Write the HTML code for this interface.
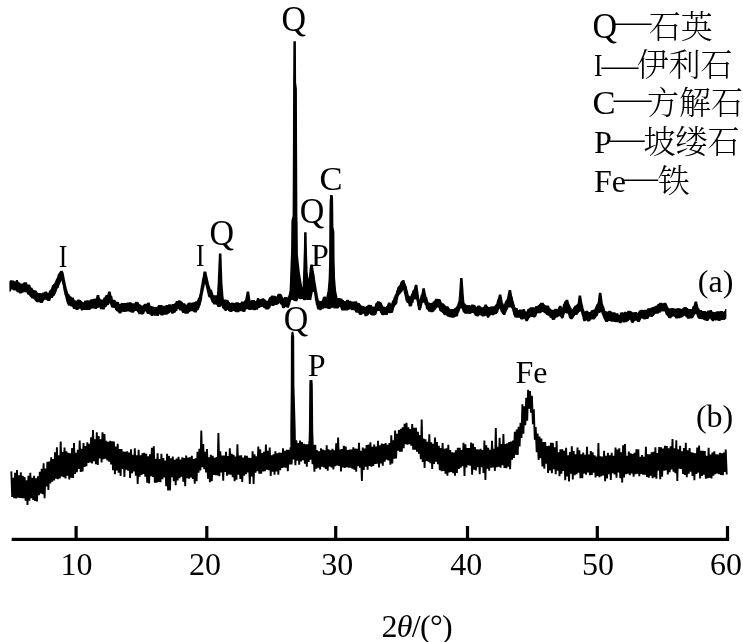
<!DOCTYPE html>
<html lang="zh">
<head>
<meta charset="utf-8">
<title>XRD</title>
<style>
html,body{margin:0;padding:0;background:#fff;}
body{width:743px;height:642px;overflow:hidden;}
svg{display:block;will-change:transform;}
text{font-family:"Liberation Serif", "Noto Serif CJK SC", serif;font-size:32px;fill:#000;}
.d{font-family:"Liberation Serif",serif;}
.q{font-size:34.5px;}
.i{font-style:italic;}
.cj{font-weight:300;}
</style>
</head>
<body>
<svg width="743" height="642" viewBox="0 0 743 642">
<rect width="743" height="642" fill="#fff"/>
<path d="M9.4 281.3 L9.7 281.2 L9.9 280.5 L10.2 280.2 L10.4 280.2 L10.7 280.2 L10.9 280.2 L11.2 280.2 L11.4 280.2 L11.7 280.2 L11.9 280.2 L12.2 280.2 L12.4 280.5 L12.7 280.5 L12.9 280.5 L13.2 280.5 L13.4 280.5 L13.7 280.5 L13.9 280.7 L14.2 280.7 L14.4 280.7 L14.7 281.4 L14.9 281.6 L15.2 281.6 L15.4 281.5 L15.7 281.1 L15.9 280.1 L16.1 280.1 L16.4 280.1 L16.6 280.1 L16.9 280.1 L17.1 280.1 L17.4 280.1 L17.6 280.1 L17.9 280.1 L18.1 281.0 L18.4 281.6 L18.6 281.7 L18.9 282.6 L19.1 282.6 L19.4 282.6 L19.6 282.6 L19.9 282.6 L20.1 282.8 L20.4 282.9 L20.6 283.4 L20.9 283.4 L21.1 283.4 L21.4 283.4 L21.6 283.4 L21.9 283.4 L22.1 283.4 L22.4 283.4 L22.6 283.4 L22.9 283.4 L23.1 283.0 L23.4 283.0 L23.6 282.3 L23.9 282.3 L24.1 282.2 L24.4 282.2 L24.6 282.2 L24.9 282.2 L25.1 282.2 L25.4 282.2 L25.6 282.2 L25.9 282.2 L26.1 282.2 L26.4 282.3 L26.6 282.3 L26.9 282.4 L27.1 282.6 L27.4 283.9 L27.6 284.5 L27.9 284.5 L28.1 284.6 L28.4 284.6 L28.6 284.6 L28.9 284.6 L29.1 284.6 L29.4 284.6 L29.6 284.6 L29.9 284.7 L30.1 285.2 L30.4 285.3 L30.6 286.1 L30.9 286.8 L31.1 287.0 L31.4 287.7 L31.6 287.8 L31.9 287.8 L32.1 287.8 L32.4 287.8 L32.6 287.9 L32.9 289.2 L33.1 289.6 L33.4 289.8 L33.6 289.8 L33.9 289.8 L34.1 289.8 L34.4 290.3 L34.6 290.3 L34.9 290.3 L35.1 290.3 L35.4 290.3 L35.6 290.4 L35.9 290.4 L36.1 290.4 L36.4 290.4 L36.6 290.8 L36.9 291.4 L37.1 292.0 L37.4 292.1 L37.6 292.4 L37.9 292.9 L38.1 292.9 L38.4 293.0 L38.6 293.0 L38.9 293.0 L39.1 293.0 L39.4 293.0 L39.6 293.0 L39.9 293.0 L40.1 293.0 L40.4 293.0 L40.6 293.1 L40.9 293.3 L41.1 293.5 L41.4 293.2 L41.6 293.2 L41.9 293.2 L42.1 292.8 L42.4 292.4 L42.6 292.4 L42.9 292.4 L43.1 292.4 L43.4 292.4 L43.6 292.4 L43.9 292.4 L44.1 292.1 L44.4 292.1 L44.6 291.8 L44.9 291.4 L45.1 291.4 L45.4 291.4 L45.6 291.4 L45.9 291.4 L46.1 291.4 L46.4 291.4 L46.6 291.4 L46.9 291.4 L47.1 291.8 L47.4 292.0 L47.6 292.9 L47.9 292.9 L48.1 292.9 L48.4 292.9 L48.6 292.0 L48.9 291.3 L49.1 291.3 L49.4 290.6 L49.6 290.3 L49.9 290.1 L50.1 290.1 L50.4 289.8 L50.6 289.2 L50.9 289.0 L51.1 288.5 L51.4 287.6 L51.6 286.9 L51.9 285.7 L52.1 285.6 L52.4 285.1 L52.6 285.1 L52.9 285.1 L53.1 284.6 L53.4 283.9 L53.6 283.9 L53.9 283.8 L54.1 283.4 L54.4 282.9 L54.6 282.5 L54.9 282.3 L55.1 281.8 L55.4 280.6 L55.6 280.5 L55.9 279.5 L56.1 278.8 L56.4 278.8 L56.6 278.5 L56.9 277.4 L57.1 277.3 L57.4 276.2 L57.6 274.7 L57.9 274.4 L58.1 273.8 L58.4 273.8 L58.6 273.8 L58.9 272.8 L59.1 272.8 L59.4 272.3 L59.6 271.8 L59.9 271.4 L60.1 271.3 L60.4 271.1 L60.6 270.8 L60.9 270.8 L61.1 270.8 L61.4 270.8 L61.6 270.8 L61.9 270.8 L62.1 270.8 L62.4 270.8 L62.6 270.8 L62.9 271.3 L63.1 271.7 L63.4 272.0 L63.6 273.3 L63.9 274.3 L64.2 275.8 L64.4 277.1 L64.7 278.5 L64.9 279.7 L65.2 281.0 L65.4 282.3 L65.7 283.6 L65.9 284.6 L66.2 286.2 L66.4 286.7 L66.7 287.7 L66.9 289.0 L67.2 289.8 L67.4 290.4 L67.7 291.6 L67.9 292.3 L68.2 293.5 L68.4 293.6 L68.7 293.9 L68.9 293.9 L69.2 293.9 L69.4 294.4 L69.7 295.0 L69.9 295.7 L70.2 295.7 L70.4 296.1 L70.7 296.2 L70.9 296.5 L71.2 296.5 L71.4 296.6 L71.7 297.0 L71.9 297.5 L72.2 297.5 L72.4 297.5 L72.7 297.5 L72.9 297.5 L73.2 297.5 L73.4 297.5 L73.7 297.5 L73.9 298.2 L74.2 299.1 L74.4 299.8 L74.7 299.8 L74.9 300.2 L75.2 300.2 L75.4 300.3 L75.7 300.4 L75.9 300.4 L76.2 300.4 L76.4 300.7 L76.7 300.7 L76.9 300.6 L77.2 300.0 L77.4 299.6 L77.7 299.6 L77.9 299.6 L78.2 299.6 L78.4 299.6 L78.7 299.6 L78.9 299.6 L79.2 299.6 L79.4 299.6 L79.7 299.8 L79.9 299.8 L80.2 300.1 L80.4 300.1 L80.7 300.1 L80.9 300.1 L81.2 300.7 L81.4 300.8 L81.7 301.2 L81.9 301.2 L82.2 301.4 L82.4 301.7 L82.7 302.0 L82.9 302.3 L83.2 302.2 L83.4 302.2 L83.7 302.2 L83.9 301.7 L84.2 301.0 L84.4 301.0 L84.7 300.6 L84.9 300.6 L85.2 300.6 L85.4 300.6 L85.7 300.4 L85.9 300.4 L86.2 300.4 L86.4 300.3 L86.7 300.3 L86.9 300.3 L87.2 300.3 L87.4 300.3 L87.7 300.3 L87.9 300.3 L88.2 300.3 L88.4 300.3 L88.7 300.4 L88.9 300.4 L89.2 300.4 L89.4 300.4 L89.7 300.1 L89.9 300.1 L90.2 299.9 L90.4 299.4 L90.7 299.3 L90.9 299.3 L91.2 299.3 L91.4 299.3 L91.7 299.3 L91.9 299.3 L92.2 299.3 L92.4 299.3 L92.7 299.0 L92.9 298.7 L93.2 298.7 L93.4 298.7 L93.7 298.7 L93.9 298.7 L94.2 298.7 L94.4 298.7 L94.7 298.7 L94.9 298.7 L95.2 298.5 L95.4 298.5 L95.7 298.5 L95.9 298.5 L96.2 297.3 L96.4 296.2 L96.7 295.0 L96.9 295.0 L97.2 295.0 L97.4 295.0 L97.7 295.0 L97.9 295.0 L98.2 295.0 L98.4 295.0 L98.7 295.0 L98.9 295.0 L99.2 295.0 L99.4 296.1 L99.7 297.3 L99.9 298.4 L100.2 298.4 L100.4 298.7 L100.7 299.0 L100.9 299.3 L101.2 299.5 L101.4 299.5 L101.7 299.5 L101.9 299.5 L102.2 299.5 L102.4 299.5 L102.7 299.5 L102.9 299.4 L103.2 298.6 L103.4 297.8 L103.7 297.5 L103.9 297.5 L104.2 297.5 L104.4 297.3 L104.7 297.0 L104.9 296.6 L105.2 295.8 L105.4 295.4 L105.7 294.9 L105.9 294.9 L106.2 294.9 L106.4 294.9 L106.7 294.9 L106.9 294.9 L107.2 294.9 L107.4 294.1 L107.7 293.3 L107.9 292.4 L108.2 291.6 L108.4 291.6 L108.7 291.6 L108.9 291.6 L109.2 291.6 L109.4 291.6 L109.7 291.6 L109.9 291.6 L110.2 291.6 L110.4 291.6 L110.7 291.6 L110.9 292.8 L111.2 294.0 L111.4 295.3 L111.7 296.0 L111.9 296.0 L112.2 296.0 L112.4 296.8 L112.7 298.4 L112.9 299.3 L113.2 299.7 L113.4 299.8 L113.7 299.8 L113.9 299.8 L114.2 299.8 L114.4 299.8 L114.7 299.8 L114.9 299.8 L115.2 299.9 L115.4 300.5 L115.7 300.5 L115.9 300.5 L116.2 301.4 L116.4 301.8 L116.7 301.8 L116.9 301.8 L117.2 301.8 L117.4 301.8 L117.7 301.8 L117.9 301.8 L118.2 301.9 L118.4 301.9 L118.7 301.9 L118.9 301.9 L119.2 302.9 L119.4 303.7 L119.7 303.9 L119.9 303.9 L120.2 304.1 L120.4 303.7 L120.7 303.3 L120.9 303.3 L121.2 302.9 L121.4 302.9 L121.7 302.9 L121.9 302.9 L122.2 302.9 L122.4 302.9 L122.7 302.9 L122.9 302.9 L123.2 302.9 L123.4 302.9 L123.7 302.9 L123.9 302.9 L124.2 302.9 L124.4 303.1 L124.7 303.1 L124.9 303.1 L125.2 303.1 L125.4 303.1 L125.7 302.9 L125.9 302.9 L126.2 302.9 L126.4 302.9 L126.7 302.5 L126.9 302.5 L127.2 302.5 L127.4 302.5 L127.7 302.5 L127.9 302.5 L128.2 302.5 L128.4 302.5 L128.7 302.5 L128.9 302.5 L129.2 302.3 L129.4 302.2 L129.7 302.2 L129.9 302.2 L130.2 302.2 L130.4 302.2 L130.7 302.2 L130.9 302.2 L131.2 302.2 L131.4 302.2 L131.7 302.7 L131.9 302.9 L132.2 302.9 L132.4 302.9 L132.7 303.4 L132.9 303.4 L133.2 303.4 L133.4 303.3 L133.7 303.3 L133.9 303.3 L134.2 303.3 L134.4 303.3 L134.7 303.3 L134.9 302.7 L135.2 301.7 L135.4 301.7 L135.7 301.7 L135.9 301.7 L136.2 301.7 L136.4 301.7 L136.7 301.7 L136.9 301.7 L137.2 301.7 L137.4 301.8 L137.7 302.0 L137.9 302.0 L138.2 302.0 L138.4 302.0 L138.7 303.0 L138.9 303.1 L139.2 303.5 L139.4 303.9 L139.7 304.3 L139.9 304.3 L140.2 304.5 L140.4 304.5 L140.7 304.5 L140.9 304.9 L141.2 305.0 L141.4 305.0 L141.7 305.7 L141.9 305.7 L142.2 305.7 L142.4 305.7 L142.7 305.3 L142.9 304.7 L143.2 304.7 L143.4 304.7 L143.7 304.4 L143.9 304.4 L144.2 303.7 L144.4 303.7 L144.7 303.7 L144.9 303.7 L145.2 303.7 L145.4 303.7 L145.7 303.7 L145.9 303.7 L146.2 303.7 L146.4 303.8 L146.7 303.6 L146.9 303.6 L147.2 302.7 L147.4 302.7 L147.7 302.6 L147.9 302.6 L148.2 302.6 L148.4 302.6 L148.7 302.6 L148.9 302.6 L149.2 302.6 L149.4 302.6 L149.7 302.6 L149.9 303.6 L150.2 304.3 L150.4 305.3 L150.7 305.9 L150.9 306.0 L151.2 306.0 L151.4 306.1 L151.7 306.1 L151.9 306.1 L152.2 306.1 L152.4 306.5 L152.7 306.5 L152.9 306.5 L153.2 306.5 L153.4 306.5 L153.7 306.7 L153.9 306.7 L154.2 306.7 L154.4 306.9 L154.7 306.9 L154.9 306.9 L155.2 306.9 L155.4 306.9 L155.7 307.0 L155.9 307.0 L156.2 307.0 L156.4 307.0 L156.7 307.0 L156.9 307.0 L157.2 306.9 L157.4 305.9 L157.7 305.7 L157.9 305.4 L158.2 305.0 L158.4 305.0 L158.7 305.0 L158.9 305.0 L159.2 305.0 L159.4 305.0 L159.7 305.0 L159.9 305.0 L160.2 305.0 L160.4 305.0 L160.7 305.0 L160.9 305.0 L161.2 305.0 L161.4 305.0 L161.7 305.0 L161.9 305.0 L162.2 305.0 L162.4 305.0 L162.7 305.8 L162.9 306.5 L163.2 306.3 L163.4 305.7 L163.7 305.7 L163.9 305.7 L164.2 305.7 L164.4 305.7 L164.7 305.7 L164.9 305.7 L165.2 305.7 L165.4 305.7 L165.7 305.2 L165.9 305.2 L166.2 305.1 L166.4 305.1 L166.7 305.1 L166.9 305.1 L167.2 305.1 L167.4 305.1 L167.7 305.1 L167.9 305.1 L168.2 304.5 L168.4 304.3 L168.7 304.3 L168.9 304.3 L169.2 304.3 L169.4 304.3 L169.7 304.3 L169.9 304.3 L170.2 304.3 L170.4 304.3 L170.7 304.3 L170.9 304.6 L171.2 304.6 L171.4 304.7 L171.7 304.6 L171.9 303.9 L172.2 303.9 L172.4 303.9 L172.7 303.9 L172.9 303.9 L173.2 303.9 L173.4 303.9 L173.7 303.9 L173.9 303.9 L174.2 303.7 L174.4 303.4 L174.7 302.9 L174.9 302.9 L175.2 302.7 L175.4 302.6 L175.7 301.6 L175.9 301.1 L176.2 300.9 L176.4 300.9 L176.7 300.9 L176.9 300.9 L177.2 300.9 L177.4 300.9 L177.7 300.9 L177.9 300.9 L178.2 300.3 L178.4 300.3 L178.7 300.3 L178.9 300.3 L179.2 300.3 L179.4 300.3 L179.7 300.3 L179.9 300.3 L180.2 300.3 L180.4 300.4 L180.7 300.7 L180.9 300.9 L181.2 301.0 L181.4 301.3 L181.7 301.3 L181.9 301.4 L182.2 301.5 L182.4 301.7 L182.7 302.2 L182.9 302.4 L183.2 302.7 L183.4 303.2 L183.7 303.2 L183.9 303.2 L184.2 303.2 L184.4 303.2 L184.7 303.2 L184.9 303.2 L185.2 303.2 L185.4 303.7 L185.7 304.2 L185.9 305.0 L186.2 304.9 L186.4 304.4 L186.7 304.4 L186.9 304.3 L187.2 304.1 L187.4 303.0 L187.7 303.0 L187.9 303.0 L188.2 303.0 L188.4 302.6 L188.7 302.6 L188.9 302.6 L189.2 302.6 L189.4 302.6 L189.7 302.6 L189.9 302.6 L190.2 302.6 L190.4 302.6 L190.7 302.7 L190.9 302.7 L191.2 302.8 L191.4 302.8 L191.7 302.8 L191.9 302.8 L192.2 302.6 L192.4 302.6 L192.7 302.6 L192.9 302.5 L193.2 302.3 L193.4 302.3 L193.7 302.3 L193.9 302.3 L194.2 302.1 L194.4 302.1 L194.7 302.1 L194.9 302.1 L195.2 301.4 L195.4 301.4 L195.7 301.2 L195.9 301.2 L196.2 301.2 L196.4 301.2 L196.7 301.2 L196.9 300.8 L197.2 300.1 L197.4 300.1 L197.7 299.0 L197.9 298.2 L198.2 297.7 L198.4 297.7 L198.7 297.5 L198.9 296.5 L199.2 295.1 L199.4 294.4 L199.7 293.5 L199.9 292.0 L200.2 290.8 L200.4 288.8 L200.7 287.5 L200.9 286.0 L201.2 284.9 L201.4 283.8 L201.7 282.3 L201.9 280.2 L202.2 278.6 L202.4 278.1 L202.7 276.9 L202.9 275.5 L203.2 273.3 L203.4 271.7 L203.7 271.5 L203.9 271.5 L204.2 271.5 L204.4 271.5 L204.7 271.5 L204.9 271.5 L205.2 271.5 L205.4 271.5 L205.7 271.5 L205.9 271.5 L206.2 271.7 L206.4 271.9 L206.7 273.4 L206.9 274.9 L207.2 275.7 L207.4 277.1 L207.7 277.7 L207.9 279.2 L208.2 280.3 L208.4 281.3 L208.7 282.4 L208.9 284.1 L209.2 284.9 L209.4 285.1 L209.7 286.0 L209.9 287.0 L210.2 287.5 L210.4 288.5 L210.7 288.9 L210.9 289.4 L211.2 289.4 L211.4 289.4 L211.7 289.7 L211.9 290.1 L212.2 290.6 L212.4 291.2 L212.7 292.2 L212.9 292.9 L213.2 294.0 L213.4 294.5 L213.7 295.2 L213.9 295.3 L214.2 295.3 L214.4 295.3 L214.7 295.3 L214.9 295.3 L215.2 295.3 L215.4 295.3 L215.7 295.3 L215.9 295.3 L216.2 295.3 L216.4 295.3 L216.7 295.3 L216.9 294.7 L217.2 290.7 L217.4 286.7 L217.7 282.7 L217.9 276.8 L218.2 271.0 L218.4 265.1 L218.7 259.3 L218.9 253.4 L219.2 253.4 L219.4 253.4 L219.7 253.4 L219.9 253.4 L220.2 253.4 L220.4 253.4 L220.7 253.4 L220.9 253.4 L221.2 253.4 L221.4 253.4 L221.7 260.7 L221.9 268.1 L222.2 275.4 L222.4 282.7 L222.7 285.9 L222.9 289.1 L223.2 292.3 L223.4 295.5 L223.7 297.8 L223.9 299.6 L224.2 299.6 L224.4 299.6 L224.7 299.6 L224.9 299.6 L225.2 299.6 L225.4 299.6 L225.7 299.6 L225.9 299.6 L226.2 299.8 L226.4 299.8 L226.7 299.8 L226.9 299.8 L227.2 299.8 L227.4 299.9 L227.7 300.2 L227.9 300.2 L228.2 300.2 L228.4 300.2 L228.7 300.5 L228.9 300.9 L229.2 302.0 L229.4 302.0 L229.7 302.0 L229.9 302.7 L230.2 303.5 L230.4 302.8 L230.7 302.8 L230.9 302.8 L231.2 302.8 L231.4 302.6 L231.7 302.6 L231.9 302.6 L232.2 302.6 L232.4 302.6 L232.7 302.6 L232.9 302.6 L233.2 302.6 L233.4 302.6 L233.7 303.1 L233.9 303.1 L234.2 303.1 L234.4 303.1 L234.7 303.3 L234.9 302.6 L235.2 302.6 L235.4 302.6 L235.7 302.6 L235.9 302.6 L236.2 302.2 L236.4 302.2 L236.7 302.2 L236.9 302.2 L237.2 302.2 L237.4 302.2 L237.7 302.2 L237.9 302.2 L238.2 302.2 L238.4 302.2 L238.7 302.3 L238.9 302.4 L239.2 303.0 L239.4 303.0 L239.7 303.0 L239.9 303.0 L240.2 302.9 L240.4 302.9 L240.7 302.3 L240.9 301.8 L241.2 301.7 L241.4 301.5 L241.7 301.5 L241.9 301.5 L242.2 301.5 L242.4 301.5 L242.7 301.5 L242.9 301.5 L243.2 301.5 L243.4 301.5 L243.7 302.0 L243.9 300.8 L244.2 300.5 L244.4 300.5 L244.7 300.5 L244.9 300.4 L245.2 299.6 L245.4 298.2 L245.7 296.9 L245.9 295.6 L246.2 294.2 L246.4 292.9 L246.7 291.6 L246.9 291.6 L247.2 291.6 L247.4 291.6 L247.7 291.6 L247.9 291.6 L248.2 291.6 L248.4 291.6 L248.7 291.6 L248.9 291.6 L249.2 291.6 L249.4 293.3 L249.7 295.0 L249.9 296.6 L250.2 298.3 L250.4 300.0 L250.7 300.7 L250.9 300.8 L251.2 300.5 L251.4 299.9 L251.7 299.9 L251.9 299.9 L252.2 299.9 L252.4 299.9 L252.7 299.9 L252.9 299.9 L253.2 299.9 L253.4 299.9 L253.7 299.9 L253.9 299.9 L254.2 299.9 L254.4 299.9 L254.7 299.9 L254.9 300.0 L255.2 301.1 L255.4 301.3 L255.7 301.0 L255.9 301.0 L256.1 300.7 L256.4 300.2 L256.6 299.5 L256.9 298.7 L257.1 298.0 L257.4 298.0 L257.6 298.0 L257.9 298.0 L258.1 298.0 L258.4 298.0 L258.6 298.0 L258.9 298.0 L259.1 298.0 L259.4 299.2 L259.6 299.2 L259.9 299.2 L260.1 299.2 L260.4 299.2 L260.6 299.2 L260.9 299.2 L261.1 298.8 L261.4 298.7 L261.6 298.7 L261.9 298.7 L262.1 298.3 L262.4 298.3 L262.6 298.3 L262.9 298.3 L263.1 298.3 L263.4 298.3 L263.6 298.3 L263.9 298.3 L264.1 298.3 L264.4 299.0 L264.6 299.2 L264.9 299.2 L265.1 299.2 L265.4 299.6 L265.6 300.0 L265.9 300.0 L266.1 300.0 L266.4 300.7 L266.6 300.7 L266.9 300.7 L267.1 300.7 L267.4 301.1 L267.6 301.1 L267.9 299.9 L268.1 299.6 L268.4 299.6 L268.6 298.6 L268.9 298.2 L269.1 297.4 L269.4 297.2 L269.6 297.0 L269.9 296.8 L270.1 296.8 L270.4 296.8 L270.6 296.6 L270.9 296.5 L271.1 296.1 L271.4 295.6 L271.6 295.6 L271.9 295.6 L272.1 295.6 L272.4 295.6 L272.6 295.6 L272.9 295.6 L273.1 295.6 L273.4 295.6 L273.6 295.8 L273.9 295.8 L274.1 295.8 L274.4 295.8 L274.6 295.8 L274.9 295.8 L275.1 295.8 L275.4 295.8 L275.6 295.8 L275.9 296.4 L276.1 296.4 L276.4 296.8 L276.6 296.2 L276.9 296.0 L277.1 294.9 L277.4 294.8 L277.6 293.8 L277.9 293.8 L278.1 293.8 L278.4 293.8 L278.6 293.8 L278.9 293.8 L279.1 293.8 L279.4 293.8 L279.6 293.8 L279.9 293.8 L280.1 293.8 L280.4 293.8 L280.6 293.8 L280.9 293.8 L281.1 294.4 L281.4 294.4 L281.6 294.4 L281.9 294.4 L282.1 295.0 L282.4 296.2 L282.6 297.1 L282.9 297.1 L283.1 297.7 L283.4 298.5 L283.6 297.9 L283.9 297.4 L284.1 297.3 L284.4 297.1 L284.6 297.1 L284.9 297.1 L285.1 297.1 L285.4 297.1 L285.6 297.1 L285.9 297.1 L286.1 297.1 L286.4 297.1 L286.6 297.1 L286.9 297.1 L287.1 297.2 L287.4 297.5 L287.6 296.9 L287.9 296.4 L288.1 296.3 L288.4 295.8 L288.6 294.8 L288.9 294.1 L289.1 292.7 L289.4 291.2 L289.6 289.7 L289.9 282.9 L290.1 276.2 L290.4 269.4 L290.6 262.7 L290.9 255.7 L291.1 248.7 L291.4 220.7 L291.6 219.7 L291.9 218.7 L292.1 217.7 L292.4 216.7 L292.6 215.7 L292.9 148.7 L293.1 84.7 L293.4 41.2 L293.6 41.2 L293.9 41.2 L294.1 41.2 L294.4 41.2 L294.6 41.2 L294.9 41.2 L295.1 41.2 L295.4 41.2 L295.6 41.2 L295.9 41.2 L296.1 82.7 L296.4 84.7 L296.6 86.7 L296.9 88.7 L297.1 148.7 L297.4 216.7 L297.6 222.7 L297.9 253.7 L298.1 256.4 L298.4 259.0 L298.6 261.7 L298.9 263.9 L299.1 266.1 L299.4 268.3 L299.6 270.5 L299.9 272.7 L300.1 274.2 L300.4 275.7 L300.6 277.2 L300.9 278.7 L301.1 280.2 L301.4 281.7 L301.6 283.2 L301.9 284.7 L302.1 286.2 L302.4 287.7 L302.6 285.7 L302.9 279.7 L303.1 273.7 L303.4 265.4 L303.6 257.0 L303.9 248.7 L304.1 232.2 L304.4 232.2 L304.6 232.2 L304.9 232.2 L305.1 232.2 L305.4 232.2 L305.6 232.2 L305.9 232.2 L306.1 232.2 L306.4 232.2 L306.6 232.2 L306.9 248.7 L307.1 256.4 L307.4 264.0 L307.6 271.7 L307.9 273.9 L308.1 276.2 L308.4 278.4 L308.6 278.7 L308.9 276.3 L309.1 273.9 L309.4 271.5 L309.6 269.1 L309.9 266.7 L310.1 265.6 L310.4 264.4 L310.6 264.4 L310.9 264.4 L311.1 264.4 L311.4 264.4 L311.6 264.4 L311.9 264.4 L312.1 264.4 L312.4 264.4 L312.6 264.4 L312.9 264.4 L313.1 266.6 L313.4 268.7 L313.6 270.1 L313.9 271.5 L314.1 272.9 L314.4 274.3 L314.6 275.7 L314.9 277.5 L315.1 279.4 L315.4 281.2 L315.6 282.8 L315.9 284.1 L316.1 285.5 L316.4 286.7 L316.6 288.7 L316.9 290.5 L317.1 291.5 L317.4 292.6 L317.6 294.4 L317.9 295.9 L318.1 297.3 L318.4 298.4 L318.6 299.4 L318.9 300.3 L319.1 300.7 L319.4 300.7 L319.6 300.7 L319.9 300.9 L320.1 301.0 L320.4 301.1 L320.6 301.0 L320.9 301.0 L321.1 301.0 L321.4 301.0 L321.6 300.5 L321.9 300.2 L322.1 300.2 L322.4 298.9 L322.6 298.1 L322.9 297.0 L323.1 296.9 L323.4 296.9 L323.6 296.6 L323.9 296.6 L324.1 296.6 L324.4 296.6 L324.6 296.6 L324.9 296.6 L325.1 296.6 L325.4 296.6 L325.6 296.6 L325.9 297.1 L326.1 297.8 L326.4 296.6 L326.6 295.4 L326.9 294.2 L327.1 293.1 L327.4 291.9 L327.6 290.7 L327.9 287.7 L328.1 284.7 L328.4 281.7 L328.6 278.7 L328.9 269.7 L329.1 260.7 L329.4 213.7 L329.6 201.7 L329.9 198.4 L330.1 195.1 L330.4 195.1 L330.6 195.1 L330.9 195.1 L331.1 195.1 L331.4 195.1 L331.6 195.1 L331.9 195.1 L332.1 195.1 L332.4 195.1 L332.6 195.1 L332.9 196.9 L333.1 198.7 L333.4 226.7 L333.6 227.9 L333.9 229.2 L334.1 230.4 L334.4 231.7 L334.6 260.7 L334.9 269.7 L335.1 278.7 L335.4 281.7 L335.6 284.7 L335.9 287.7 L336.1 290.7 L336.4 291.9 L336.6 293.2 L336.9 294.4 L337.1 295.7 L337.4 296.9 L337.6 298.2 L337.9 298.2 L338.1 298.1 L338.4 298.1 L338.6 298.1 L338.9 298.1 L339.1 298.1 L339.4 298.1 L339.6 298.1 L339.9 298.1 L340.1 298.1 L340.4 298.3 L340.6 298.3 L340.9 298.4 L341.1 298.4 L341.4 298.4 L341.6 298.8 L341.9 298.8 L342.1 298.8 L342.4 298.8 L342.6 299.3 L342.9 300.0 L343.1 300.1 L343.4 300.1 L343.6 300.1 L343.9 300.2 L344.1 301.0 L344.4 301.0 L344.6 301.0 L344.9 301.0 L345.1 301.0 L345.4 301.0 L345.6 301.0 L345.9 300.8 L346.1 300.4 L346.4 299.8 L346.6 299.8 L346.9 299.8 L347.1 299.8 L347.4 299.8 L347.6 299.8 L347.9 299.8 L348.1 299.8 L348.4 299.8 L348.6 299.8 L348.9 300.3 L349.1 300.7 L349.4 300.7 L349.6 300.7 L349.9 300.7 L350.1 300.7 L350.4 300.7 L350.6 300.7 L350.9 300.7 L351.1 300.9 L351.4 300.9 L351.6 301.6 L351.9 301.7 L352.1 301.5 L352.4 301.5 L352.6 301.5 L352.9 301.5 L353.1 301.5 L353.4 301.5 L353.6 301.5 L353.9 301.5 L354.1 301.5 L354.4 301.6 L354.6 301.6 L354.9 301.3 L355.1 301.3 L355.4 301.3 L355.6 301.3 L355.9 301.3 L356.1 301.3 L356.4 301.3 L356.6 301.3 L356.9 301.3 L357.1 302.0 L357.4 302.4 L357.6 302.8 L357.9 302.8 L358.1 302.8 L358.4 303.0 L358.6 303.0 L358.9 303.0 L359.1 303.0 L359.4 303.0 L359.6 303.2 L359.9 303.2 L360.1 304.0 L360.4 304.1 L360.6 304.7 L360.9 304.8 L361.1 305.5 L361.4 305.5 L361.6 305.5 L361.9 305.5 L362.1 305.5 L362.4 305.6 L362.6 306.1 L362.9 306.1 L363.1 306.1 L363.4 306.1 L363.6 306.2 L363.9 306.3 L364.1 306.3 L364.4 306.4 L364.6 306.4 L364.9 306.5 L365.1 306.9 L365.4 306.6 L365.6 306.6 L365.9 306.6 L366.1 306.6 L366.4 306.1 L366.6 306.1 L366.9 306.1 L367.1 305.7 L367.4 305.5 L367.6 305.2 L367.9 304.7 L368.1 304.7 L368.4 304.7 L368.6 304.7 L368.9 304.7 L369.1 304.7 L369.4 304.7 L369.6 304.7 L369.9 304.7 L370.1 305.0 L370.4 305.0 L370.6 305.0 L370.9 305.0 L371.1 305.0 L371.4 305.0 L371.6 305.1 L371.9 305.1 L372.1 305.9 L372.4 306.4 L372.6 306.4 L372.9 306.4 L373.1 306.4 L373.4 306.4 L373.6 306.8 L373.9 306.8 L374.1 306.8 L374.4 306.7 L374.6 306.2 L374.9 305.3 L375.1 303.9 L375.4 303.4 L375.6 303.1 L375.9 303.1 L376.1 302.8 L376.4 302.7 L376.6 302.2 L376.9 301.7 L377.1 301.2 L377.4 301.2 L377.6 301.2 L377.9 301.2 L378.1 301.2 L378.4 301.2 L378.6 301.2 L378.9 301.2 L379.1 301.2 L379.4 301.2 L379.6 301.2 L379.9 301.8 L380.1 301.8 L380.4 301.9 L380.6 301.9 L380.9 301.9 L381.1 302.4 L381.4 302.4 L381.6 302.5 L381.9 303.3 L382.1 304.0 L382.4 304.7 L382.6 304.8 L382.9 305.5 L383.1 306.4 L383.4 306.4 L383.6 306.4 L383.9 306.4 L384.1 306.4 L384.4 306.4 L384.6 306.8 L384.9 307.0 L385.1 307.0 L385.4 306.9 L385.6 306.9 L385.9 306.9 L386.1 306.2 L386.4 306.1 L386.6 306.1 L386.9 305.9 L387.1 305.2 L387.4 304.0 L387.6 303.4 L387.9 303.4 L388.1 302.8 L388.4 302.4 L388.6 302.4 L388.9 302.4 L389.1 302.4 L389.4 302.4 L389.6 302.4 L389.9 302.4 L390.1 302.4 L390.4 302.4 L390.6 303.6 L390.9 303.6 L391.1 303.6 L391.4 303.5 L391.6 302.6 L391.9 301.6 L392.1 300.7 L392.4 300.6 L392.6 300.2 L392.9 300.0 L393.1 299.3 L393.4 298.5 L393.6 297.9 L393.9 296.5 L394.1 296.5 L394.4 296.4 L394.6 295.2 L394.9 294.7 L395.1 294.3 L395.4 294.3 L395.6 293.7 L395.9 292.8 L396.1 291.0 L396.4 290.4 L396.6 290.2 L396.9 289.5 L397.1 288.2 L397.4 287.2 L397.6 287.2 L397.9 286.9 L398.1 286.6 L398.4 286.4 L398.6 285.7 L398.9 285.7 L399.1 285.7 L399.4 285.1 L399.6 285.1 L399.9 283.9 L400.1 282.8 L400.4 282.6 L400.6 282.4 L400.9 281.2 L401.1 281.2 L401.4 281.1 L401.6 281.1 L401.9 280.6 L402.1 280.5 L402.4 279.9 L402.6 279.9 L402.9 279.9 L403.1 279.9 L403.4 279.9 L403.6 279.9 L403.9 279.9 L404.1 279.9 L404.4 279.9 L404.6 281.1 L404.9 282.0 L405.1 282.7 L405.4 283.2 L405.6 283.9 L405.9 284.7 L406.1 285.5 L406.4 285.5 L406.6 286.1 L406.9 287.3 L407.1 288.6 L407.4 289.7 L407.6 290.3 L407.9 291.6 L408.1 291.8 L408.4 293.7 L408.6 294.7 L408.9 295.4 L409.1 295.4 L409.4 295.8 L409.6 296.3 L409.9 296.3 L410.1 296.3 L410.4 296.6 L410.6 295.5 L410.9 294.8 L411.1 294.1 L411.4 294.1 L411.6 293.4 L411.9 292.5 L412.1 291.9 L412.4 290.7 L412.6 290.6 L412.9 290.3 L413.1 289.8 L413.4 289.7 L413.6 289.7 L413.9 288.7 L414.1 287.7 L414.4 286.7 L414.6 285.7 L414.9 284.7 L415.1 284.7 L415.4 284.7 L415.6 284.7 L415.9 284.7 L416.1 284.7 L416.4 284.7 L416.6 284.7 L416.9 284.7 L417.1 284.7 L417.4 284.7 L417.6 286.6 L417.9 288.4 L418.1 290.3 L418.4 292.1 L418.6 293.8 L418.9 295.6 L419.1 297.4 L419.4 299.0 L419.6 299.8 L419.9 298.6 L420.1 297.7 L420.4 296.3 L420.6 295.5 L420.9 294.7 L421.1 294.4 L421.4 294.2 L421.6 292.8 L421.9 291.3 L422.1 289.8 L422.4 288.3 L422.6 288.3 L422.9 288.3 L423.1 288.3 L423.4 288.3 L423.6 288.3 L423.9 288.3 L424.1 288.3 L424.4 288.3 L424.6 288.3 L424.9 288.3 L425.1 289.8 L425.4 291.3 L425.6 292.8 L425.9 294.0 L426.1 294.5 L426.4 295.9 L426.6 296.9 L426.9 297.1 L427.1 297.2 L427.4 297.9 L427.6 298.9 L427.9 300.4 L428.1 301.1 L428.4 301.9 L428.6 302.4 L428.9 302.4 L429.1 302.4 L429.4 302.4 L429.6 302.4 L429.9 302.9 L430.1 303.1 L430.4 303.1 L430.6 303.1 L430.9 303.1 L431.1 303.1 L431.4 302.8 L431.6 302.8 L431.9 302.8 L432.1 302.8 L432.4 302.8 L432.6 301.9 L432.9 301.6 L433.1 301.6 L433.4 301.6 L433.6 301.4 L433.9 300.7 L434.1 300.7 L434.4 300.7 L434.6 300.6 L434.9 299.5 L435.1 299.0 L435.4 299.0 L435.6 298.7 L435.9 298.7 L436.1 298.7 L436.4 298.7 L436.6 298.7 L436.9 298.7 L437.1 298.7 L437.4 298.7 L437.6 298.7 L437.9 299.0 L438.1 299.0 L438.4 299.1 L438.6 299.1 L438.9 299.1 L439.1 299.1 L439.4 299.1 L439.6 299.1 L439.9 299.1 L440.1 299.6 L440.4 299.6 L440.6 299.6 L440.9 300.0 L441.1 300.8 L441.4 302.2 L441.6 302.2 L441.9 302.2 L442.1 302.6 L442.4 303.2 L442.6 303.3 L442.9 303.3 L443.1 303.3 L443.4 303.4 L443.6 303.4 L443.9 303.5 L444.1 304.2 L444.4 304.2 L444.6 304.2 L444.9 304.4 L445.1 304.9 L445.4 305.5 L445.6 305.5 L445.9 305.5 L446.1 306.2 L446.4 306.3 L446.6 306.3 L446.9 306.3 L447.1 306.3 L447.4 306.3 L447.6 306.3 L447.9 306.3 L448.1 306.3 L448.4 306.5 L448.6 306.6 L448.9 307.4 L449.1 307.6 L449.4 308.1 L449.6 308.1 L449.9 308.9 L450.1 308.9 L450.4 309.1 L450.6 309.2 L450.9 309.2 L451.1 309.2 L451.4 309.0 L451.6 309.0 L451.9 309.0 L452.1 309.0 L452.4 309.0 L452.6 309.0 L452.9 309.0 L453.1 309.0 L453.4 309.0 L453.6 309.0 L453.9 308.7 L454.1 308.3 L454.4 308.3 L454.6 308.3 L454.9 307.8 L455.1 307.6 L455.4 307.6 L455.6 307.6 L455.9 307.6 L456.1 307.1 L456.4 306.3 L456.6 305.8 L456.9 305.8 L457.1 305.5 L457.4 304.0 L457.6 303.4 L457.9 303.1 L458.1 302.0 L458.4 300.9 L458.6 299.2 L458.9 295.9 L459.1 292.7 L459.4 289.1 L459.6 285.4 L459.9 281.7 L460.1 278.1 L460.4 278.1 L460.6 278.1 L460.9 278.1 L461.1 278.1 L461.4 278.1 L461.6 278.1 L461.9 278.1 L462.1 278.1 L462.4 278.1 L462.6 278.1 L462.9 281.7 L463.1 285.4 L463.4 289.1 L463.6 292.7 L463.9 295.9 L464.1 299.2 L464.4 301.7 L464.6 302.9 L464.9 303.5 L465.1 303.5 L465.4 303.5 L465.6 304.2 L465.9 304.3 L466.1 304.6 L466.4 304.7 L466.6 305.0 L466.9 305.1 L467.1 305.1 L467.4 305.1 L467.6 305.1 L467.9 305.1 L468.1 305.1 L468.4 305.1 L468.6 305.1 L468.9 305.1 L469.1 305.1 L469.4 305.1 L469.6 305.1 L469.9 305.1 L470.1 305.4 L470.4 305.4 L470.6 305.4 L470.9 305.3 L471.1 304.7 L471.4 304.6 L471.6 304.6 L471.9 304.6 L472.1 304.6 L472.4 304.6 L472.6 304.6 L472.9 304.6 L473.1 304.6 L473.4 304.6 L473.6 304.7 L473.9 304.7 L474.1 304.7 L474.4 304.7 L474.6 305.0 L474.9 305.0 L475.1 305.0 L475.4 305.2 L475.6 305.9 L475.9 306.8 L476.1 306.7 L476.4 306.7 L476.6 306.7 L476.9 306.7 L477.1 305.9 L477.4 305.9 L477.6 305.7 L477.9 305.6 L478.1 305.6 L478.4 305.6 L478.6 305.6 L478.9 305.6 L479.1 305.6 L479.4 305.6 L479.6 305.6 L479.9 305.6 L480.1 305.8 L480.4 306.3 L480.6 306.3 L480.9 306.6 L481.1 306.6 L481.4 307.2 L481.6 307.2 L481.9 307.2 L482.1 307.2 L482.4 307.2 L482.6 307.2 L482.9 307.2 L483.1 307.0 L483.4 306.7 L483.6 306.7 L483.9 306.2 L484.1 305.9 L484.4 304.7 L484.6 304.5 L484.9 304.4 L485.1 304.4 L485.4 304.4 L485.6 304.4 L485.9 304.4 L486.1 304.4 L486.4 304.4 L486.6 304.4 L486.9 304.4 L487.1 305.3 L487.4 306.0 L487.6 306.1 L487.9 306.2 L488.1 306.7 L488.4 306.7 L488.6 307.1 L488.9 307.1 L489.1 307.1 L489.4 307.0 L489.6 306.9 L489.9 306.9 L490.1 306.5 L490.4 306.5 L490.6 306.5 L490.9 306.5 L491.1 306.5 L491.4 306.5 L491.6 306.3 L491.9 306.3 L492.1 306.3 L492.4 306.3 L492.6 306.3 L492.9 306.3 L493.1 306.3 L493.4 306.3 L493.6 306.3 L493.9 306.4 L494.1 306.3 L494.4 306.1 L494.6 305.5 L494.9 305.5 L495.1 304.7 L495.4 304.7 L495.6 304.7 L495.9 304.3 L496.1 303.9 L496.4 303.5 L496.6 302.2 L496.9 300.9 L497.1 300.1 L497.4 299.3 L497.6 299.3 L497.9 298.8 L498.1 297.8 L498.4 296.7 L498.6 295.7 L498.9 294.6 L499.1 294.6 L499.4 294.6 L499.6 294.6 L499.9 294.6 L500.1 294.6 L500.4 294.6 L500.6 294.6 L500.9 294.6 L501.1 294.6 L501.4 294.6 L501.6 295.9 L501.9 297.3 L502.1 298.6 L502.4 300.0 L502.6 301.3 L502.9 302.7 L503.1 303.1 L503.4 303.5 L503.6 304.3 L503.9 304.7 L504.1 304.2 L504.4 303.4 L504.6 302.3 L504.9 302.0 L505.1 301.5 L505.4 300.6 L505.6 300.6 L505.9 300.6 L506.1 300.4 L506.4 299.8 L506.6 299.0 L506.9 298.4 L507.1 297.6 L507.4 296.3 L507.6 295.0 L507.9 293.7 L508.1 292.5 L508.4 291.2 L508.6 289.9 L508.9 289.9 L509.1 289.9 L509.4 289.9 L509.6 289.9 L509.9 289.9 L510.1 289.9 L510.4 289.9 L510.6 289.9 L510.9 289.9 L511.1 289.9 L511.4 291.4 L511.6 292.8 L511.9 294.3 L512.1 295.8 L512.4 296.2 L512.6 296.9 L512.9 297.9 L513.1 299.7 L513.4 300.5 L513.6 301.4 L513.9 301.8 L514.1 303.2 L514.4 304.3 L514.6 304.8 L514.9 304.8 L515.1 306.7 L515.4 307.1 L515.6 307.3 L515.9 308.0 L516.1 308.0 L516.4 308.0 L516.6 308.0 L516.9 308.0 L517.1 308.0 L517.4 308.0 L517.6 308.0 L517.9 309.2 L518.1 310.0 L518.4 310.0 L518.6 310.0 L518.9 309.9 L519.1 309.6 L519.4 309.6 L519.6 309.5 L519.9 309.5 L520.1 309.5 L520.4 309.5 L520.6 309.5 L520.9 309.5 L521.1 309.5 L521.4 309.5 L521.6 309.5 L521.9 310.2 L522.1 309.9 L522.4 309.6 L522.6 309.0 L522.9 309.0 L523.1 309.0 L523.4 309.0 L523.6 309.0 L523.9 309.0 L524.1 309.0 L524.4 309.0 L524.6 309.0 L524.9 309.8 L525.1 309.8 L525.4 311.2 L525.6 311.3 L525.9 311.3 L526.1 311.5 L526.4 311.8 L526.6 311.6 L526.9 310.5 L527.1 309.7 L527.4 309.3 L527.6 308.9 L527.9 308.9 L528.1 308.9 L528.4 308.5 L528.6 308.5 L528.9 308.5 L529.1 308.3 L529.4 308.3 L529.6 308.1 L529.9 307.3 L530.1 307.3 L530.4 307.3 L530.6 307.3 L530.9 307.3 L531.1 307.3 L531.4 307.2 L531.6 307.2 L531.9 307.2 L532.1 307.2 L532.4 307.2 L532.6 307.2 L532.9 307.2 L533.1 307.2 L533.4 307.2 L533.6 307.3 L533.9 307.3 L534.1 307.4 L534.4 307.6 L534.6 307.5 L534.9 307.1 L535.1 306.3 L535.4 306.3 L535.6 306.0 L535.9 306.0 L536.1 306.0 L536.4 306.0 L536.6 306.0 L536.9 306.0 L537.1 305.9 L537.4 305.8 L537.6 305.7 L537.9 305.0 L538.1 305.0 L538.4 305.0 L538.6 305.0 L538.9 305.0 L539.1 303.9 L539.4 303.9 L539.6 303.8 L539.9 303.5 L540.1 303.2 L540.4 302.8 L540.6 302.7 L540.9 302.7 L541.1 302.7 L541.4 302.7 L541.6 302.7 L541.9 302.7 L542.1 302.7 L542.4 302.7 L542.6 302.7 L542.9 302.7 L543.1 302.7 L543.4 302.7 L543.6 302.7 L543.9 303.6 L544.1 303.8 L544.4 304.4 L544.6 304.5 L544.9 304.6 L545.1 304.8 L545.4 305.0 L545.6 305.3 L545.9 305.5 L546.1 305.5 L546.4 305.6 L546.6 305.6 L546.9 305.5 L547.1 305.5 L547.4 305.5 L547.6 305.5 L547.9 305.5 L548.1 305.5 L548.4 305.5 L548.6 305.5 L548.9 305.5 L549.1 306.0 L549.4 306.9 L549.6 307.6 L549.9 308.0 L550.1 308.3 L550.4 308.5 L550.6 308.8 L550.9 308.8 L551.1 309.2 L551.4 309.2 L551.6 309.7 L551.9 309.7 L552.1 309.7 L552.4 309.7 L552.6 309.7 L552.9 309.9 L553.1 309.7 L553.4 309.7 L553.6 309.7 L553.9 309.7 L554.1 309.3 L554.4 309.3 L554.6 308.7 L554.9 308.7 L555.1 308.7 L555.4 308.7 L555.6 308.7 L555.9 308.7 L556.1 308.7 L556.4 308.7 L556.6 308.7 L556.9 308.8 L557.1 308.8 L557.4 308.8 L557.6 309.6 L557.9 309.1 L558.1 308.1 L558.4 307.2 L558.6 306.8 L558.9 306.5 L559.1 306.1 L559.4 305.8 L559.6 305.8 L559.9 305.8 L560.1 305.8 L560.4 305.8 L560.6 305.8 L560.9 305.8 L561.1 305.8 L561.4 305.8 L561.6 306.5 L561.9 307.4 L562.1 307.8 L562.4 307.6 L562.6 306.2 L562.9 304.8 L563.1 304.1 L563.4 304.1 L563.6 303.8 L563.9 302.5 L564.1 301.6 L564.4 301.6 L564.6 301.6 L564.9 301.6 L565.1 301.2 L565.4 300.4 L565.6 299.7 L565.9 299.7 L566.1 299.7 L566.4 299.7 L566.6 299.7 L566.9 299.7 L567.1 299.7 L567.4 299.7 L567.6 299.7 L567.9 299.7 L568.1 299.7 L568.4 300.6 L568.6 301.5 L568.9 302.4 L569.1 303.3 L569.4 304.1 L569.6 304.4 L569.9 304.8 L570.1 305.3 L570.4 305.9 L570.6 306.6 L570.9 307.4 L571.1 307.5 L571.4 307.8 L571.6 308.3 L571.9 309.4 L572.1 309.3 L572.4 309.3 L572.6 308.6 L572.9 308.6 L573.1 307.4 L573.4 307.2 L573.6 307.2 L573.9 307.1 L574.1 306.4 L574.4 306.1 L574.6 305.4 L574.9 305.4 L575.1 305.4 L575.4 305.4 L575.6 305.4 L575.9 305.4 L576.1 305.0 L576.4 305.0 L576.6 304.4 L576.9 303.9 L577.1 303.9 L577.4 303.9 L577.6 302.9 L577.9 301.1 L578.1 299.2 L578.4 297.4 L578.6 295.6 L578.9 295.6 L579.1 295.6 L579.4 295.6 L579.6 295.6 L579.9 295.6 L580.1 295.6 L580.4 295.6 L580.6 295.6 L580.9 295.6 L581.1 295.6 L581.4 297.0 L581.6 298.5 L581.9 299.9 L582.1 301.4 L582.4 302.8 L582.6 304.3 L582.9 304.8 L583.1 306.0 L583.4 307.5 L583.6 308.4 L583.9 309.3 L584.1 309.8 L584.4 310.5 L584.6 311.4 L584.9 311.3 L585.1 311.3 L585.4 311.2 L585.6 311.2 L585.9 310.8 L586.1 310.8 L586.4 310.8 L586.6 310.8 L586.9 310.8 L587.1 310.8 L587.4 310.8 L587.6 310.8 L587.9 310.8 L588.1 311.1 L588.4 311.8 L588.6 311.8 L588.9 311.8 L589.1 311.9 L589.4 311.9 L589.6 311.9 L589.9 311.9 L590.1 311.9 L590.4 311.7 L590.6 311.0 L590.9 310.5 L591.1 310.5 L591.4 310.4 L591.6 309.9 L591.9 309.9 L592.1 309.9 L592.4 309.9 L592.6 309.8 L592.9 309.8 L593.1 309.8 L593.4 309.8 L593.6 309.5 L593.9 309.5 L594.1 309.5 L594.4 309.5 L594.6 308.5 L594.9 308.1 L595.1 307.2 L595.4 306.8 L595.6 306.2 L595.9 305.6 L596.1 305.6 L596.4 304.4 L596.6 303.9 L596.9 303.9 L597.1 303.5 L597.4 303.3 L597.6 302.7 L597.9 300.7 L598.1 298.7 L598.4 296.7 L598.6 294.7 L598.9 292.7 L599.1 292.7 L599.4 292.7 L599.6 292.7 L599.9 292.7 L600.1 292.7 L600.4 292.7 L600.6 292.7 L600.9 292.7 L601.1 292.7 L601.4 292.7 L601.6 294.6 L601.9 296.4 L602.1 298.3 L602.4 300.1 L602.6 302.0 L602.9 303.8 L603.1 304.6 L603.4 304.6 L603.6 305.9 L603.9 306.3 L604.1 306.8 L604.4 307.4 L604.6 308.5 L604.9 309.2 L605.1 310.5 L605.4 310.8 L605.6 311.1 L605.9 311.1 L606.1 311.3 L606.4 311.3 L606.6 311.3 L606.9 311.4 L607.1 311.5 L607.4 311.8 L607.6 311.8 L607.9 311.2 L608.1 310.9 L608.4 310.9 L608.6 310.8 L608.9 310.8 L609.1 310.8 L609.4 310.8 L609.6 310.8 L609.9 310.8 L610.1 310.8 L610.4 310.8 L610.6 310.8 L610.9 311.1 L611.1 311.1 L611.4 311.1 L611.6 311.8 L611.9 312.1 L612.1 312.3 L612.4 312.3 L612.6 312.3 L612.9 312.3 L613.1 312.3 L613.4 312.3 L613.6 312.3 L613.9 312.3 L614.1 312.3 L614.4 312.3 L614.6 312.3 L614.9 312.3 L615.1 312.3 L615.4 312.4 L615.6 312.8 L615.9 312.9 L616.1 313.2 L616.4 313.2 L616.6 313.2 L616.9 313.2 L617.1 313.2 L617.4 313.2 L617.6 313.2 L617.9 313.2 L618.1 313.4 L618.4 313.6 L618.6 314.2 L618.9 314.8 L619.1 314.9 L619.4 314.9 L619.6 314.5 L619.9 313.2 L620.1 312.4 L620.4 312.4 L620.6 312.4 L620.9 312.4 L621.1 312.4 L621.4 312.2 L621.6 312.2 L621.9 312.2 L622.1 312.2 L622.4 312.2 L622.6 312.2 L622.9 312.2 L623.1 312.2 L623.4 312.2 L623.6 312.9 L623.9 312.5 L624.1 311.7 L624.4 311.7 L624.6 311.7 L624.9 311.7 L625.1 311.7 L625.4 311.7 L625.6 311.7 L625.9 311.7 L626.1 311.7 L626.4 312.0 L626.6 312.3 L626.9 312.3 L627.1 311.5 L627.4 311.1 L627.6 311.1 L627.9 310.8 L628.1 310.8 L628.4 310.7 L628.6 310.7 L628.9 310.7 L629.1 310.7 L629.4 310.7 L629.6 310.7 L629.9 310.7 L630.1 310.7 L630.4 310.7 L630.6 311.0 L630.9 311.0 L631.1 311.2 L631.4 311.2 L631.6 311.4 L631.9 311.8 L632.1 311.8 L632.4 311.8 L632.6 312.2 L632.9 312.6 L633.1 312.3 L633.4 312.3 L633.6 312.3 L633.9 312.3 L634.1 312.3 L634.4 312.3 L634.6 312.1 L634.9 312.1 L635.1 312.1 L635.4 312.1 L635.6 312.1 L635.9 312.1 L636.1 312.1 L636.4 312.1 L636.6 312.1 L636.9 312.1 L637.1 312.4 L637.4 312.7 L637.6 312.7 L637.9 312.9 L638.1 312.3 L638.4 312.1 L638.6 311.1 L638.9 311.1 L639.1 311.1 L639.4 310.7 L639.6 310.0 L639.9 310.0 L640.1 310.0 L640.4 310.0 L640.6 309.8 L640.9 309.8 L641.1 309.8 L641.4 309.8 L641.6 309.8 L641.9 309.8 L642.1 309.8 L642.4 309.8 L642.6 309.8 L642.9 309.9 L643.1 309.9 L643.4 310.1 L643.6 310.1 L643.9 310.1 L644.1 310.1 L644.4 309.7 L644.6 309.7 L644.9 309.7 L645.1 309.7 L645.4 309.7 L645.6 309.7 L645.9 309.7 L646.1 309.7 L646.4 309.7 L646.6 309.8 L646.9 309.5 L647.1 308.5 L647.4 308.5 L647.6 308.5 L647.9 308.2 L648.1 308.2 L648.4 308.2 L648.6 308.2 L648.9 308.2 L649.1 308.2 L649.4 308.2 L649.6 308.2 L649.9 308.1 L650.1 308.0 L650.4 308.0 L650.6 308.0 L650.9 307.6 L651.1 307.6 L651.4 307.6 L651.6 307.5 L651.9 307.4 L652.1 307.1 L652.4 307.1 L652.6 307.1 L652.9 307.1 L653.1 307.1 L653.4 307.0 L653.6 306.6 L653.9 306.6 L654.1 306.6 L654.4 306.6 L654.6 306.4 L654.9 305.9 L655.1 305.9 L655.4 305.9 L655.6 305.5 L655.9 305.5 L656.1 305.5 L656.4 305.5 L656.6 305.5 L656.9 305.5 L657.1 304.7 L657.4 304.6 L657.6 303.9 L657.9 303.8 L658.1 303.8 L658.4 303.8 L658.6 303.8 L658.9 303.8 L659.1 303.3 L659.4 303.3 L659.6 302.8 L659.9 302.8 L660.1 302.7 L660.4 302.7 L660.6 302.7 L660.9 302.7 L661.1 302.7 L661.4 302.7 L661.6 302.7 L661.9 302.7 L662.1 302.7 L662.4 303.3 L662.6 303.3 L662.9 303.3 L663.1 303.3 L663.4 303.2 L663.6 303.1 L663.9 302.8 L664.1 302.8 L664.4 302.8 L664.6 302.8 L664.9 302.8 L665.1 302.8 L665.4 302.8 L665.6 302.8 L665.9 302.8 L666.1 303.0 L666.4 303.5 L666.6 303.5 L666.9 304.0 L667.1 304.7 L667.4 305.5 L667.6 306.4 L667.9 306.6 L668.1 307.0 L668.4 307.1 L668.6 307.7 L668.9 308.4 L669.1 308.5 L669.4 308.3 L669.6 308.3 L669.9 308.3 L670.1 308.3 L670.4 308.3 L670.6 308.3 L670.9 308.3 L671.1 308.3 L671.4 308.3 L671.6 308.1 L671.9 308.1 L672.1 308.1 L672.4 308.1 L672.6 308.1 L672.9 308.1 L673.1 308.1 L673.4 308.1 L673.6 308.1 L673.9 308.4 L674.1 308.6 L674.4 308.6 L674.6 308.6 L674.9 308.6 L675.1 308.6 L675.4 308.6 L675.6 308.6 L675.9 308.5 L676.1 308.5 L676.4 308.5 L676.6 308.5 L676.9 308.5 L677.1 308.5 L677.4 308.0 L677.6 308.0 L677.9 308.0 L678.1 308.0 L678.4 308.0 L678.6 308.0 L678.9 308.0 L679.1 308.0 L679.4 308.0 L679.6 308.5 L679.9 308.5 L680.1 308.5 L680.4 308.5 L680.6 308.5 L680.9 308.6 L681.1 308.9 L681.4 308.9 L681.6 308.9 L681.9 308.7 L682.1 308.7 L682.4 308.3 L682.6 308.1 L682.9 307.8 L683.1 307.6 L683.4 307.5 L683.6 307.5 L683.9 307.3 L684.1 307.3 L684.4 307.0 L684.6 307.0 L684.9 307.0 L685.1 307.0 L685.4 307.0 L685.6 307.0 L685.9 307.0 L686.1 307.0 L686.4 307.0 L686.6 307.6 L686.9 307.6 L687.1 307.9 L687.4 307.9 L687.6 307.9 L687.9 307.9 L688.1 307.9 L688.4 308.9 L688.6 309.1 L688.9 309.1 L689.1 309.1 L689.4 309.1 L689.6 309.1 L689.9 309.1 L690.1 309.1 L690.4 309.1 L690.6 309.1 L690.9 309.0 L691.1 309.0 L691.4 309.0 L691.6 309.0 L691.9 308.7 L692.1 307.4 L692.4 306.7 L692.6 306.6 L692.9 306.0 L693.1 306.0 L693.4 306.0 L693.6 305.1 L693.9 304.4 L694.1 303.5 L694.4 302.5 L694.6 301.6 L694.9 301.6 L695.1 301.6 L695.4 301.6 L695.6 301.6 L695.9 301.6 L696.1 301.6 L696.4 301.6 L696.6 301.6 L696.9 301.6 L697.1 301.6 L697.4 302.7 L697.6 303.9 L697.9 305.0 L698.1 306.0 L698.4 307.0 L698.6 307.9 L698.9 308.1 L699.1 308.4 L699.4 308.4 L699.6 309.3 L699.9 309.8 L700.1 309.9 L700.4 309.9 L700.6 309.9 L700.9 309.9 L701.1 309.9 L701.4 309.9 L701.6 309.9 L701.9 309.9 L702.1 310.5 L702.4 311.1 L702.6 311.1 L702.9 311.1 L703.1 311.1 L703.4 311.1 L703.6 311.1 L703.9 310.9 L704.1 310.9 L704.4 310.9 L704.6 310.9 L704.9 310.9 L705.1 310.9 L705.4 310.9 L705.6 310.9 L705.9 310.9 L706.1 311.2 L706.4 311.8 L706.6 311.8 L706.9 311.9 L707.1 311.5 L707.4 310.6 L707.6 310.6 L707.9 310.6 L708.1 310.6 L708.4 310.6 L708.6 310.6 L708.9 310.4 L709.1 310.4 L709.4 310.4 L709.6 310.4 L709.9 309.9 L710.1 309.9 L710.4 309.9 L710.6 309.9 L710.9 309.9 L711.1 309.9 L711.4 309.9 L711.6 309.9 L711.9 309.9 L712.1 310.7 L712.4 311.5 L712.6 311.7 L712.9 311.7 L713.1 311.7 L713.4 311.7 L713.6 311.9 L713.9 311.9 L714.1 311.9 L714.4 311.9 L714.6 311.9 L714.9 312.3 L715.1 312.2 L715.4 312.1 L715.6 311.7 L715.9 311.7 L716.1 311.4 L716.4 311.4 L716.6 311.2 L716.9 311.2 L717.1 311.2 L717.4 311.2 L717.6 311.2 L717.9 311.2 L718.1 311.2 L718.4 311.2 L718.6 311.2 L718.9 311.3 L719.1 311.6 L719.4 311.2 L719.6 311.2 L719.9 311.1 L720.1 310.9 L720.4 310.9 L720.6 310.9 L720.9 310.9 L721.1 310.9 L721.4 310.9 L721.6 310.9 L721.9 310.9 L722.1 310.9 L722.4 310.9 L722.6 310.9 L722.9 311.3 L723.1 311.4 L723.4 311.4 L723.6 311.8 L723.9 312.1 L724.1 311.2 L724.4 311.1 L724.6 311.0 L724.9 310.3 L725.1 309.6 L725.4 309.0 L725.6 309.0 L725.9 309.0 L726.1 309.0 L726.4 309.0 L726.4 318.5 L726.1 318.5 L725.9 318.9 L725.6 318.9 L725.4 319.6 L725.1 319.6 L724.9 319.6 L724.6 319.9 L724.4 319.9 L724.1 319.9 L723.9 320.0 L723.6 320.0 L723.4 320.0 L723.1 320.0 L722.9 320.0 L722.6 320.0 L722.4 320.0 L722.1 320.0 L721.9 320.0 L721.6 320.0 L721.4 320.1 L721.1 320.2 L720.9 320.3 L720.6 320.6 L720.4 321.0 L720.1 321.0 L719.9 321.0 L719.6 321.0 L719.4 321.0 L719.1 321.0 L718.9 321.0 L718.6 321.0 L718.4 321.0 L718.1 320.4 L717.9 320.4 L717.6 320.4 L717.4 320.4 L717.1 320.4 L716.9 320.1 L716.6 320.4 L716.4 320.4 L716.1 320.4 L715.9 320.4 L715.6 320.4 L715.4 320.4 L715.1 320.4 L714.9 320.4 L714.6 320.4 L714.4 320.3 L714.1 320.2 L713.9 321.2 L713.6 321.2 L713.4 321.2 L713.1 321.2 L712.9 321.2 L712.6 321.2 L712.4 321.2 L712.1 321.2 L711.9 321.2 L711.6 320.5 L711.4 320.1 L711.1 319.9 L710.9 319.9 L710.6 319.4 L710.4 318.9 L710.1 318.4 L709.9 318.7 L709.6 318.7 L709.4 319.1 L709.1 319.7 L708.9 320.1 L708.6 320.5 L708.4 320.5 L708.1 321.1 L707.9 321.1 L707.6 321.1 L707.4 321.1 L707.1 321.1 L706.9 321.1 L706.6 321.1 L706.4 321.1 L706.1 321.1 L705.9 320.7 L705.6 320.5 L705.4 320.5 L705.1 320.5 L704.9 320.5 L704.6 320.3 L704.4 320.3 L704.1 320.2 L703.9 320.0 L703.6 320.0 L703.4 319.8 L703.1 319.4 L702.9 319.2 L702.6 319.2 L702.4 319.2 L702.1 319.2 L701.9 319.2 L701.6 319.2 L701.4 319.2 L701.1 319.1 L700.9 319.1 L700.6 319.1 L700.4 319.1 L700.1 319.1 L699.9 319.1 L699.6 319.1 L699.4 319.1 L699.1 319.1 L698.9 319.1 L698.6 318.6 L698.4 318.2 L698.1 318.2 L697.9 318.2 L697.6 318.1 L697.4 317.2 L697.1 316.4 L696.9 315.8 L696.6 315.2 L696.4 314.4 L696.1 314.1 L695.9 314.1 L695.6 314.1 L695.4 314.3 L695.1 314.5 L694.9 314.5 L694.6 315.4 L694.4 315.8 L694.1 315.8 L693.9 316.6 L693.6 317.2 L693.4 317.8 L693.1 317.8 L692.9 317.8 L692.6 317.9 L692.4 318.4 L692.1 318.4 L691.9 318.4 L691.6 318.4 L691.4 318.4 L691.1 318.4 L690.9 318.4 L690.6 318.4 L690.4 318.4 L690.1 318.4 L689.9 318.4 L689.6 318.8 L689.4 318.8 L689.1 318.8 L688.9 318.8 L688.6 318.8 L688.4 318.8 L688.1 318.8 L687.9 318.8 L687.6 318.8 L687.4 318.8 L687.1 318.5 L686.9 318.1 L686.6 317.3 L686.4 317.3 L686.1 317.3 L685.9 317.3 L685.6 316.6 L685.4 316.6 L685.1 316.4 L684.9 316.0 L684.6 315.6 L684.4 315.6 L684.1 316.3 L683.9 316.3 L683.6 316.3 L683.4 316.3 L683.1 317.1 L682.9 317.1 L682.6 317.3 L682.4 317.3 L682.1 317.5 L681.9 317.6 L681.6 317.7 L681.4 317.7 L681.1 317.7 L680.9 317.7 L680.6 317.7 L680.4 317.7 L680.1 318.2 L679.9 318.2 L679.6 318.2 L679.4 318.2 L679.1 318.2 L678.9 318.2 L678.6 318.2 L678.4 318.3 L678.1 318.3 L677.9 318.5 L677.6 318.5 L677.4 318.5 L677.1 318.5 L676.9 318.5 L676.6 318.5 L676.4 318.5 L676.1 318.5 L675.9 318.5 L675.6 318.4 L675.4 318.3 L675.1 318.2 L674.9 317.2 L674.6 317.0 L674.4 317.0 L674.1 316.5 L673.9 316.5 L673.6 316.5 L673.4 316.5 L673.1 316.5 L672.9 316.5 L672.6 316.6 L672.4 316.9 L672.1 317.1 L671.9 317.1 L671.6 317.8 L671.4 317.8 L671.1 318.3 L670.9 318.3 L670.6 318.3 L670.4 318.3 L670.1 318.3 L669.9 318.3 L669.6 318.3 L669.4 318.3 L669.1 318.3 L668.9 317.9 L668.6 317.9 L668.4 317.9 L668.1 317.9 L667.9 316.8 L667.6 316.6 L667.4 316.3 L667.1 316.3 L666.9 316.0 L666.6 315.6 L666.4 315.1 L666.1 315.1 L665.9 314.7 L665.6 314.3 L665.4 313.6 L665.1 312.7 L664.9 311.9 L664.6 311.6 L664.4 311.6 L664.1 311.6 L663.9 311.4 L663.6 311.4 L663.4 311.4 L663.1 311.3 L662.9 311.0 L662.6 311.4 L662.4 311.4 L662.1 311.4 L661.9 311.4 L661.6 311.4 L661.4 311.6 L661.1 311.8 L660.9 312.0 L660.6 312.8 L660.4 312.8 L660.1 312.8 L659.9 312.8 L659.6 312.8 L659.4 312.8 L659.1 312.9 L658.9 313.6 L658.6 313.6 L658.4 313.6 L658.1 313.7 L657.9 313.7 L657.6 313.7 L657.4 313.7 L657.1 313.7 L656.9 313.7 L656.6 313.7 L656.4 313.7 L656.1 313.7 L655.9 313.8 L655.6 313.8 L655.4 314.0 L655.1 314.2 L654.9 314.4 L654.6 314.7 L654.4 315.2 L654.1 315.3 L653.9 316.0 L653.6 316.0 L653.4 316.1 L653.1 316.3 L652.9 316.3 L652.6 317.0 L652.4 317.0 L652.1 317.0 L651.9 317.0 L651.6 317.0 L651.4 317.0 L651.1 317.0 L650.9 317.0 L650.6 317.0 L650.4 316.6 L650.1 316.6 L649.9 316.6 L649.6 316.6 L649.4 316.7 L649.1 317.2 L648.9 318.3 L648.6 318.4 L648.4 318.4 L648.1 318.7 L647.9 318.9 L647.6 318.9 L647.4 318.9 L647.1 318.9 L646.9 318.9 L646.6 318.9 L646.4 318.9 L646.1 318.9 L645.9 318.9 L645.6 319.5 L645.4 319.5 L645.1 319.5 L644.9 319.5 L644.6 319.5 L644.4 319.5 L644.1 319.5 L643.9 319.5 L643.6 319.5 L643.4 319.1 L643.1 319.1 L642.9 318.9 L642.6 318.8 L642.4 318.3 L642.1 318.4 L641.9 318.4 L641.6 318.4 L641.4 318.4 L641.1 319.2 L640.9 319.8 L640.6 319.8 L640.4 320.4 L640.1 321.2 L639.9 321.9 L639.6 321.9 L639.4 321.9 L639.1 321.9 L638.9 321.9 L638.6 321.9 L638.4 321.9 L638.1 321.9 L637.9 321.9 L637.6 321.9 L637.4 321.9 L637.1 321.4 L636.9 321.4 L636.6 321.0 L636.4 320.8 L636.1 320.8 L635.9 320.8 L635.6 320.8 L635.4 320.8 L635.1 320.8 L634.9 321.0 L634.6 321.1 L634.4 321.7 L634.1 322.0 L633.9 322.2 L633.6 322.9 L633.4 322.9 L633.1 322.9 L632.9 322.9 L632.6 322.9 L632.4 322.9 L632.1 322.9 L631.9 322.9 L631.6 322.9 L631.4 322.3 L631.1 322.2 L630.9 321.9 L630.6 321.5 L630.4 320.5 L630.1 320.3 L629.9 320.3 L629.6 319.4 L629.4 319.9 L629.1 320.2 L628.9 320.9 L628.6 320.9 L628.4 320.9 L628.1 320.9 L627.9 320.9 L627.6 321.6 L627.4 322.0 L627.1 322.0 L626.9 322.0 L626.6 322.2 L626.4 322.2 L626.1 322.2 L625.9 322.2 L625.6 322.2 L625.4 322.2 L625.1 322.2 L624.9 322.2 L624.6 322.5 L624.4 322.5 L624.1 322.5 L623.9 322.5 L623.6 322.5 L623.4 322.5 L623.1 322.5 L622.9 322.5 L622.6 322.5 L622.4 321.8 L622.1 321.8 L621.9 322.5 L621.6 322.9 L621.4 323.3 L621.1 323.3 L620.9 323.3 L620.6 323.3 L620.4 323.3 L620.1 323.3 L619.9 323.3 L619.6 323.3 L619.4 323.3 L619.1 323.1 L618.9 322.9 L618.6 322.3 L618.4 322.2 L618.1 322.2 L617.9 322.2 L617.6 322.2 L617.4 322.3 L617.1 322.3 L616.9 322.3 L616.6 322.3 L616.4 322.3 L616.1 322.3 L615.9 322.3 L615.6 322.3 L615.4 322.3 L615.1 322.0 L614.9 322.0 L614.6 322.0 L614.4 322.0 L614.1 322.0 L613.9 321.7 L613.6 321.7 L613.4 321.7 L613.1 321.7 L612.9 321.7 L612.6 321.7 L612.4 321.7 L612.1 321.7 L611.9 321.7 L611.6 321.7 L611.4 321.6 L611.1 321.6 L610.9 321.4 L610.6 321.4 L610.4 321.4 L610.1 321.0 L609.9 321.0 L609.6 321.0 L609.4 321.0 L609.1 321.0 L608.9 321.1 L608.6 321.3 L608.4 321.3 L608.1 321.5 L607.9 322.1 L607.6 322.1 L607.4 322.1 L607.1 322.1 L606.9 322.1 L606.6 322.1 L606.4 322.1 L606.1 322.1 L605.9 322.1 L605.6 322.0 L605.4 322.0 L605.1 321.4 L604.9 321.1 L604.6 320.8 L604.4 320.0 L604.1 319.6 L603.9 318.8 L603.6 318.8 L603.4 318.1 L603.1 317.6 L602.9 316.8 L602.6 316.3 L602.4 315.2 L602.1 314.7 L601.9 314.3 L601.6 314.0 L601.4 312.5 L601.1 312.1 L600.9 311.9 L600.6 312.4 L600.4 312.4 L600.1 313.0 L599.9 313.0 L599.6 313.0 L599.4 313.0 L599.1 313.0 L598.9 313.0 L598.6 313.3 L598.4 313.6 L598.1 314.9 L597.9 315.3 L597.6 315.9 L597.4 316.3 L597.1 316.3 L596.9 316.5 L596.6 316.6 L596.4 317.1 L596.1 318.0 L595.9 318.0 L595.6 318.0 L595.4 318.4 L595.1 318.7 L594.9 318.8 L594.6 319.4 L594.4 319.4 L594.1 319.4 L593.9 319.4 L593.6 319.4 L593.4 319.4 L593.1 319.4 L592.9 319.4 L592.6 319.4 L592.4 319.4 L592.1 319.1 L591.9 319.1 L591.6 319.2 L591.4 319.7 L591.1 320.1 L590.9 320.2 L590.6 320.2 L590.4 320.8 L590.1 320.8 L589.9 321.0 L589.6 321.4 L589.4 321.6 L589.1 321.6 L588.9 321.6 L588.6 321.6 L588.4 321.6 L588.1 321.6 L587.9 321.6 L587.6 321.6 L587.4 321.6 L587.1 321.2 L586.9 320.5 L586.6 320.4 L586.4 320.3 L586.1 320.6 L585.9 320.6 L585.6 321.2 L585.4 321.3 L585.1 321.3 L584.9 321.3 L584.6 321.3 L584.4 321.3 L584.1 321.3 L583.9 321.3 L583.6 321.3 L583.4 321.3 L583.1 320.6 L582.9 319.7 L582.6 318.7 L582.4 316.9 L582.1 316.2 L581.9 315.8 L581.6 314.9 L581.4 313.9 L581.1 312.4 L580.9 311.5 L580.6 311.4 L580.4 311.4 L580.1 311.7 L579.9 311.7 L579.6 311.7 L579.4 311.7 L579.1 312.5 L578.9 312.5 L578.6 312.9 L578.4 313.3 L578.1 313.7 L577.9 313.9 L577.6 314.2 L577.4 314.8 L577.1 314.9 L576.9 314.9 L576.6 314.9 L576.4 314.9 L576.1 315.0 L575.9 315.0 L575.6 315.0 L575.4 315.0 L575.1 315.3 L574.9 316.3 L574.6 316.3 L574.4 316.3 L574.1 316.3 L573.9 317.2 L573.6 317.6 L573.4 318.3 L573.1 318.3 L572.9 318.5 L572.6 319.2 L572.4 319.2 L572.1 319.2 L571.9 319.2 L571.6 319.2 L571.4 319.2 L571.1 319.2 L570.9 319.2 L570.6 319.2 L570.4 319.1 L570.1 319.1 L569.9 318.8 L569.6 318.3 L569.4 318.2 L569.1 318.0 L568.9 317.7 L568.6 316.0 L568.4 315.1 L568.1 314.8 L567.9 313.8 L567.6 313.5 L567.4 313.5 L567.1 313.5 L566.9 313.5 L566.6 313.5 L566.4 313.5 L566.1 313.5 L565.9 313.3 L565.6 312.8 L565.4 313.1 L565.1 313.2 L564.9 313.8 L564.6 313.9 L564.4 314.7 L564.1 316.3 L563.9 316.8 L563.6 317.8 L563.4 317.8 L563.1 318.4 L562.9 318.4 L562.6 318.4 L562.4 318.4 L562.1 318.4 L561.9 318.4 L561.6 318.4 L561.4 318.4 L561.1 318.4 L560.9 318.1 L560.6 317.3 L560.4 316.7 L560.1 316.7 L559.9 316.1 L559.6 316.3 L559.4 316.6 L559.1 316.6 L558.9 316.6 L558.6 316.6 L558.4 316.7 L558.1 317.0 L557.9 317.3 L557.6 317.3 L557.4 317.3 L557.1 317.4 L556.9 317.6 L556.6 317.6 L556.4 317.8 L556.1 317.8 L555.9 318.0 L555.6 318.4 L555.4 319.3 L555.1 319.3 L554.9 319.7 L554.6 319.7 L554.4 319.7 L554.1 319.9 L553.9 319.9 L553.6 319.9 L553.4 319.9 L553.1 319.9 L552.9 319.9 L552.6 319.9 L552.4 319.9 L552.1 319.9 L551.9 319.5 L551.6 319.1 L551.4 318.2 L551.1 318.2 L550.9 318.2 L550.6 317.9 L550.4 317.8 L550.1 317.8 L549.9 317.8 L549.6 317.5 L549.4 316.5 L549.1 316.5 L548.9 316.0 L548.6 316.0 L548.4 315.8 L548.1 315.7 L547.9 315.7 L547.6 315.7 L547.4 315.3 L547.1 315.1 L546.9 315.1 L546.6 315.1 L546.4 314.9 L546.1 314.9 L545.9 314.2 L545.6 314.2 L545.4 314.0 L545.1 313.6 L544.9 313.6 L544.6 313.2 L544.4 313.0 L544.1 313.0 L543.9 313.0 L543.6 313.0 L543.4 312.0 L543.1 312.0 L542.9 312.0 L542.6 312.0 L542.4 311.8 L542.1 312.2 L541.9 312.3 L541.6 312.3 L541.4 312.8 L541.1 312.8 L540.9 313.2 L540.6 313.2 L540.4 313.2 L540.1 313.2 L539.9 313.2 L539.6 313.2 L539.4 313.2 L539.1 313.3 L538.9 313.3 L538.6 313.3 L538.4 313.3 L538.1 313.3 L537.9 313.6 L537.6 313.6 L537.4 313.6 L537.1 313.6 L536.9 314.3 L536.6 315.6 L536.4 316.2 L536.1 316.6 L535.9 316.6 L535.6 316.9 L535.4 317.2 L535.1 317.4 L534.9 317.4 L534.6 317.4 L534.4 317.4 L534.1 317.4 L533.9 317.4 L533.6 317.4 L533.4 317.4 L533.1 317.4 L532.9 317.0 L532.6 317.0 L532.4 317.0 L532.1 317.0 L531.9 317.0 L531.6 317.0 L531.4 317.0 L531.1 317.0 L530.9 317.0 L530.6 316.8 L530.4 316.9 L530.1 318.0 L529.9 318.0 L529.6 318.0 L529.4 318.0 L529.1 318.2 L528.9 319.1 L528.6 319.7 L528.4 320.1 L528.1 320.5 L527.9 320.9 L527.6 321.3 L527.4 321.3 L527.1 321.3 L526.9 321.3 L526.6 321.3 L526.4 321.3 L526.1 321.3 L525.9 321.3 L525.6 321.3 L525.4 320.8 L525.1 320.6 L524.9 320.1 L524.6 319.0 L524.4 318.9 L524.1 318.7 L523.9 318.6 L523.6 318.9 L523.4 319.4 L523.1 319.4 L522.9 319.6 L522.6 319.6 L522.4 319.6 L522.1 319.6 L521.9 319.6 L521.6 319.6 L521.4 319.6 L521.1 319.6 L520.9 319.6 L520.6 319.5 L520.4 318.8 L520.1 318.7 L519.9 318.1 L519.6 317.8 L519.4 317.8 L519.1 317.8 L518.9 317.8 L518.6 317.8 L518.4 317.8 L518.1 317.8 L517.9 317.8 L517.6 317.8 L517.4 317.7 L517.1 317.7 L516.9 317.7 L516.6 317.7 L516.4 317.7 L516.1 317.7 L515.9 317.7 L515.6 317.6 L515.4 317.6 L515.1 317.6 L514.9 317.6 L514.6 317.6 L514.4 317.0 L514.1 316.2 L513.9 315.9 L513.6 315.3 L513.4 315.1 L513.1 314.0 L512.9 312.4 L512.6 311.8 L512.4 311.0 L512.1 309.8 L511.9 308.8 L511.6 308.8 L511.4 308.3 L511.1 307.7 L510.9 307.1 L510.6 307.4 L510.4 307.4 L510.1 307.4 L509.9 307.4 L509.6 307.4 L509.4 307.4 L509.1 307.4 L508.9 307.4 L508.6 307.4 L508.4 307.5 L508.1 308.8 L507.9 309.5 L507.6 309.8 L507.4 309.8 L507.1 310.0 L506.9 310.7 L506.6 311.5 L506.4 312.2 L506.1 312.5 L505.9 313.3 L505.6 314.0 L505.4 314.7 L505.1 315.0 L504.9 315.0 L504.6 315.0 L504.4 315.0 L504.1 315.0 L503.9 315.0 L503.6 315.0 L503.4 315.0 L503.1 315.0 L502.9 314.4 L502.6 314.0 L502.4 314.0 L502.1 314.0 L501.9 313.6 L501.6 313.3 L501.4 312.5 L501.1 311.8 L500.9 311.8 L500.6 311.4 L500.4 310.8 L500.1 309.9 L499.9 309.2 L499.6 308.8 L499.4 308.8 L499.1 309.2 L498.9 309.7 L498.6 310.5 L498.4 311.5 L498.1 312.5 L497.9 312.8 L497.6 312.8 L497.4 313.2 L497.1 313.2 L496.9 313.9 L496.6 314.1 L496.4 314.2 L496.1 314.2 L495.9 314.3 L495.6 314.3 L495.4 314.3 L495.1 314.4 L494.9 314.4 L494.6 314.4 L494.4 314.4 L494.1 315.1 L493.9 315.2 L493.6 315.2 L493.4 315.2 L493.1 315.2 L492.9 315.2 L492.6 315.2 L492.4 315.2 L492.1 315.2 L491.9 315.2 L491.6 315.1 L491.4 315.1 L491.1 315.1 L490.9 315.0 L490.6 314.9 L490.4 316.1 L490.1 316.1 L489.9 316.1 L489.6 316.8 L489.4 317.1 L489.1 317.8 L488.9 317.8 L488.6 317.8 L488.4 317.8 L488.1 317.8 L487.9 317.8 L487.6 317.8 L487.4 317.8 L487.1 317.8 L486.9 316.8 L486.6 316.6 L486.4 316.6 L486.1 315.8 L485.9 315.5 L485.6 315.9 L485.4 316.0 L485.1 316.0 L484.9 316.3 L484.6 316.3 L484.4 316.3 L484.1 316.6 L483.9 316.6 L483.6 316.6 L483.4 316.6 L483.1 316.6 L482.9 316.6 L482.6 316.6 L482.4 316.6 L482.1 316.6 L481.9 316.4 L481.6 315.8 L481.4 315.8 L481.1 315.8 L480.9 315.5 L480.6 315.4 L480.4 315.3 L480.1 315.3 L479.9 315.3 L479.6 315.3 L479.4 315.4 L479.1 315.4 L478.9 316.0 L478.6 316.6 L478.4 316.6 L478.1 316.6 L477.9 316.6 L477.6 316.6 L477.4 316.6 L477.1 316.6 L476.9 316.6 L476.6 316.6 L476.4 316.0 L476.1 315.9 L475.9 315.9 L475.6 315.9 L475.4 315.9 L475.1 315.6 L474.9 315.6 L474.6 315.5 L474.4 314.8 L474.1 314.0 L473.9 314.0 L473.6 313.4 L473.4 313.1 L473.1 313.1 L472.9 313.1 L472.6 313.1 L472.4 313.0 L472.1 313.2 L471.9 313.2 L471.6 313.2 L471.4 313.2 L471.1 313.5 L470.9 313.9 L470.6 313.9 L470.4 313.9 L470.1 313.9 L469.9 313.9 L469.6 313.9 L469.4 313.9 L469.1 313.9 L468.9 313.9 L468.6 313.7 L468.4 313.7 L468.1 313.7 L467.9 313.7 L467.6 313.8 L467.4 313.8 L467.1 313.8 L466.9 313.8 L466.6 313.8 L466.4 313.8 L466.1 313.8 L465.9 313.8 L465.6 313.8 L465.4 313.7 L465.1 313.7 L464.9 313.7 L464.6 313.7 L464.4 313.4 L464.1 313.2 L463.9 312.5 L463.6 312.4 L463.4 312.4 L463.1 312.4 L462.9 312.3 L462.6 311.8 L462.4 310.6 L462.1 309.8 L461.9 308.8 L461.6 308.4 L461.4 308.4 L461.1 308.4 L460.9 308.4 L460.6 308.4 L460.4 309.1 L460.1 309.4 L459.9 310.6 L459.6 311.1 L459.4 311.8 L459.1 312.4 L458.9 312.7 L458.6 312.7 L458.4 314.2 L458.1 315.5 L457.9 316.2 L457.6 316.5 L457.4 316.5 L457.1 316.5 L456.9 316.5 L456.6 316.5 L456.4 316.5 L456.1 316.5 L455.9 316.7 L455.6 316.7 L455.4 316.9 L455.1 317.0 L454.9 317.3 L454.6 317.4 L454.4 317.4 L454.1 317.4 L453.9 317.4 L453.6 317.7 L453.4 317.7 L453.1 317.8 L452.9 317.8 L452.6 317.8 L452.4 317.8 L452.1 317.8 L451.9 317.8 L451.6 317.8 L451.4 317.8 L451.1 317.8 L450.9 317.5 L450.6 317.2 L450.4 317.2 L450.1 317.2 L449.9 317.2 L449.6 317.2 L449.4 317.2 L449.1 317.2 L448.9 317.2 L448.6 316.7 L448.4 316.7 L448.1 316.7 L447.9 316.7 L447.6 316.6 L447.4 316.6 L447.1 316.6 L446.9 316.6 L446.6 315.7 L446.4 315.4 L446.1 315.2 L445.9 315.2 L445.6 315.2 L445.4 315.2 L445.1 315.2 L444.9 315.2 L444.6 315.2 L444.4 315.2 L444.1 314.7 L443.9 314.7 L443.6 314.7 L443.4 314.3 L443.1 314.2 L442.9 313.3 L442.6 313.2 L442.4 313.2 L442.1 313.0 L441.9 312.4 L441.6 311.9 L441.4 311.9 L441.1 311.9 L440.9 311.9 L440.6 311.9 L440.4 311.4 L440.1 311.1 L439.9 311.1 L439.6 311.1 L439.4 311.1 L439.1 309.4 L438.9 308.8 L438.6 308.0 L438.4 307.6 L438.1 307.5 L437.9 307.5 L437.6 307.5 L437.4 307.5 L437.1 307.5 L436.9 307.7 L436.6 308.5 L436.4 308.5 L436.1 308.9 L435.9 309.0 L435.6 309.5 L435.4 309.9 L435.1 309.9 L434.9 309.9 L434.6 310.4 L434.4 311.5 L434.1 311.8 L433.9 311.8 L433.6 311.8 L433.4 311.8 L433.1 311.8 L432.9 312.3 L432.6 312.3 L432.4 312.3 L432.1 312.3 L431.9 312.3 L431.6 312.3 L431.4 312.3 L431.1 312.3 L430.9 312.3 L430.6 312.3 L430.4 312.3 L430.1 311.7 L429.9 311.7 L429.6 311.7 L429.4 311.7 L429.1 311.7 L428.9 311.7 L428.6 311.7 L428.4 311.7 L428.1 311.2 L427.9 310.9 L427.6 310.1 L427.4 309.7 L427.1 309.7 L426.9 309.7 L426.6 309.2 L426.4 309.1 L426.1 309.1 L425.9 308.0 L425.6 306.4 L425.4 305.7 L425.1 305.1 L424.9 304.8 L424.6 304.7 L424.4 303.4 L424.1 302.8 L423.9 302.8 L423.6 302.8 L423.4 302.8 L423.1 302.8 L422.9 302.8 L422.6 303.0 L422.4 303.4 L422.1 304.9 L421.9 306.0 L421.6 307.5 L421.4 308.3 L421.1 309.1 L420.9 309.2 L420.6 310.2 L420.4 310.2 L420.1 310.2 L419.9 310.2 L419.6 310.2 L419.4 310.2 L419.1 310.2 L418.9 310.2 L418.6 310.2 L418.4 310.1 L418.1 309.5 L417.9 308.0 L417.6 306.4 L417.4 306.2 L417.1 304.7 L416.9 302.4 L416.6 301.1 L416.4 300.3 L416.1 299.5 L415.9 299.5 L415.6 299.5 L415.4 299.5 L415.1 299.5 L414.9 299.5 L414.6 299.5 L414.4 299.5 L414.1 299.6 L413.9 300.5 L413.6 302.0 L413.4 303.0 L413.1 303.0 L412.9 303.0 L412.6 303.2 L412.4 304.6 L412.1 305.7 L411.9 305.9 L411.6 306.1 L411.4 306.6 L411.1 306.6 L410.9 306.6 L410.6 306.6 L410.4 306.6 L410.1 306.6 L409.9 306.6 L409.6 306.6 L409.4 306.6 L409.1 306.4 L408.9 306.4 L408.6 305.7 L408.4 304.3 L408.1 303.4 L407.9 303.3 L407.6 303.0 L407.4 302.9 L407.1 302.9 L406.9 302.9 L406.6 302.4 L406.4 301.6 L406.1 301.6 L405.9 301.6 L405.6 300.3 L405.4 299.4 L405.1 298.4 L404.9 296.8 L404.6 296.0 L404.4 294.4 L404.1 293.7 L403.9 293.1 L403.6 291.3 L403.4 290.5 L403.1 290.0 L402.9 290.0 L402.6 291.5 L402.4 291.8 L402.1 291.8 L401.9 291.8 L401.6 292.4 L401.4 292.4 L401.1 293.0 L400.9 293.5 L400.6 293.5 L400.4 294.3 L400.1 294.3 L399.9 294.3 L399.6 294.9 L399.4 294.9 L399.1 295.3 L398.9 296.0 L398.6 296.1 L398.4 297.0 L398.1 298.9 L397.9 299.8 L397.6 300.9 L397.4 302.9 L397.1 303.5 L396.9 303.8 L396.6 304.4 L396.4 304.6 L396.1 305.3 L395.9 305.3 L395.6 305.3 L395.4 305.3 L395.1 306.0 L394.9 306.7 L394.6 307.0 L394.4 307.1 L394.1 307.9 L393.9 309.0 L393.6 310.5 L393.4 311.6 L393.1 311.6 L392.9 311.9 L392.6 313.0 L392.4 313.0 L392.1 313.0 L391.9 313.0 L391.6 313.0 L391.4 313.0 L391.1 313.0 L390.9 313.0 L390.6 313.3 L390.4 313.3 L390.1 313.3 L389.9 313.3 L389.6 313.3 L389.4 313.3 L389.1 313.3 L388.9 313.3 L388.6 313.3 L388.4 312.9 L388.1 313.0 L387.9 314.7 L387.6 315.0 L387.4 315.0 L387.1 315.0 L386.9 315.0 L386.6 315.0 L386.4 315.0 L386.1 315.0 L385.9 315.0 L385.6 315.0 L385.4 314.6 L385.1 314.9 L384.9 315.0 L384.6 315.0 L384.4 315.0 L384.1 315.2 L383.9 315.2 L383.6 315.2 L383.4 315.2 L383.1 315.2 L382.9 315.2 L382.6 315.2 L382.4 315.2 L382.1 315.2 L381.9 315.1 L381.6 315.1 L381.4 315.1 L381.1 314.2 L380.9 313.8 L380.6 313.2 L380.4 313.2 L380.1 312.8 L379.9 311.7 L379.6 311.3 L379.4 311.0 L379.1 310.9 L378.9 310.9 L378.6 311.1 L378.4 311.1 L378.1 311.1 L377.9 311.1 L377.6 311.1 L377.4 311.4 L377.1 311.8 L376.9 312.6 L376.6 313.7 L376.4 314.5 L376.1 314.7 L375.9 315.1 L375.6 315.1 L375.4 315.1 L375.1 315.1 L374.9 315.6 L374.6 315.6 L374.4 315.6 L374.1 315.6 L373.9 315.6 L373.6 315.6 L373.4 315.6 L373.1 315.6 L372.9 315.6 L372.6 315.6 L372.4 315.6 L372.1 315.6 L371.9 315.6 L371.6 315.6 L371.4 315.6 L371.1 315.0 L370.9 315.0 L370.6 315.0 L370.4 315.0 L370.1 314.6 L369.9 314.1 L369.6 313.8 L369.4 313.8 L369.1 313.8 L368.9 314.5 L368.6 314.9 L368.4 314.9 L368.1 315.6 L367.9 315.6 L367.6 315.7 L367.4 315.7 L367.1 315.7 L366.9 315.9 L366.6 316.2 L366.4 316.2 L366.1 316.2 L365.9 316.2 L365.6 316.2 L365.4 316.2 L365.1 316.2 L364.9 316.2 L364.6 316.2 L364.4 315.4 L364.1 314.2 L363.9 313.8 L363.6 313.8 L363.4 313.8 L363.1 313.8 L362.9 313.8 L362.6 313.8 L362.4 314.3 L362.1 314.6 L361.9 314.7 L361.6 315.1 L361.4 315.1 L361.1 315.1 L360.9 315.1 L360.6 315.1 L360.4 315.1 L360.1 315.1 L359.9 315.1 L359.6 315.1 L359.4 315.1 L359.1 314.3 L358.9 314.3 L358.6 313.7 L358.4 313.2 L358.1 313.2 L357.9 312.7 L357.6 312.7 L357.4 312.7 L357.1 312.7 L356.9 312.7 L356.6 312.7 L356.4 312.7 L356.1 312.5 L355.9 312.5 L355.6 312.5 L355.4 312.4 L355.1 311.7 L354.9 310.9 L354.6 310.7 L354.4 310.4 L354.1 310.4 L353.9 309.8 L353.6 310.2 L353.4 310.2 L353.1 310.3 L352.9 310.3 L352.6 310.3 L352.4 310.3 L352.1 310.3 L351.9 310.3 L351.6 310.3 L351.4 310.3 L351.1 310.3 L350.9 309.7 L350.6 309.3 L350.4 309.3 L350.1 309.4 L349.9 309.4 L349.6 309.4 L349.4 309.5 L349.1 309.7 L348.9 309.7 L348.6 309.8 L348.4 310.0 L348.1 310.0 L347.9 310.4 L347.6 310.4 L347.4 310.4 L347.1 310.4 L346.9 310.4 L346.6 310.4 L346.4 310.4 L346.1 310.4 L345.9 310.4 L345.6 310.6 L345.4 310.6 L345.1 310.6 L344.9 310.6 L344.6 310.6 L344.4 310.6 L344.1 310.6 L343.9 310.6 L343.6 310.6 L343.4 310.6 L343.1 310.6 L342.9 310.6 L342.6 310.6 L342.4 310.6 L342.1 310.6 L341.9 310.6 L341.6 310.6 L341.4 310.6 L341.1 309.9 L340.9 309.1 L340.6 308.5 L340.4 307.8 L340.1 307.3 L339.9 306.6 L339.6 307.3 L339.4 307.3 L339.1 307.3 L338.9 307.9 L338.6 308.2 L338.4 308.3 L338.1 308.5 L337.9 308.5 L337.6 308.5 L337.4 308.5 L337.1 308.5 L336.9 308.5 L336.6 308.5 L336.4 308.5 L336.1 308.5 L335.9 308.2 L335.6 308.4 L335.4 308.4 L335.1 308.4 L334.9 308.4 L334.6 308.4 L334.4 308.4 L334.1 308.4 L333.9 308.4 L333.6 308.4 L333.4 307.8 L333.1 307.8 L332.9 307.7 L332.6 307.7 L332.4 307.7 L332.1 307.7 L331.9 307.7 L331.6 307.7 L331.4 308.2 L331.1 308.2 L330.9 308.4 L330.6 308.4 L330.4 309.0 L330.1 309.0 L329.9 309.0 L329.6 309.0 L329.4 309.0 L329.1 309.0 L328.9 309.0 L328.6 309.0 L328.4 309.0 L328.1 309.0 L327.9 309.0 L327.6 308.8 L327.4 308.5 L327.1 308.5 L326.9 308.3 L326.6 308.3 L326.4 308.3 L326.1 308.3 L325.9 308.3 L325.6 308.3 L325.4 308.3 L325.1 308.3 L324.9 308.3 L324.6 307.7 L324.4 308.3 L324.1 308.7 L323.9 308.7 L323.6 308.7 L323.4 308.7 L323.1 308.7 L322.9 308.7 L322.6 308.7 L322.4 309.0 L322.1 309.4 L321.9 309.4 L321.6 309.7 L321.4 310.2 L321.1 310.2 L320.9 310.2 L320.6 310.2 L320.4 310.2 L320.1 310.2 L319.9 310.2 L319.6 310.2 L319.4 310.2 L319.1 309.6 L318.9 309.6 L318.6 309.6 L318.4 309.6 L318.1 309.6 L317.9 309.4 L317.6 309.4 L317.4 309.4 L317.1 308.7 L316.9 307.9 L316.6 307.0 L316.4 305.8 L316.1 304.8 L315.9 304.8 L315.6 303.0 L315.4 301.0 L315.1 300.5 L314.9 299.2 L314.6 297.3 L314.4 295.5 L314.1 293.3 L313.9 292.3 L313.6 291.9 L313.4 291.9 L313.1 291.9 L312.9 292.1 L312.6 292.5 L312.4 294.3 L312.1 295.2 L311.9 296.4 L311.6 297.7 L311.4 299.7 L311.1 300.0 L310.9 300.0 L310.6 300.0 L310.4 300.0 L310.1 300.0 L309.9 300.0 L309.6 300.0 L309.4 300.0 L309.1 300.0 L308.9 300.0 L308.6 300.0 L308.4 300.0 L308.1 300.0 L307.9 300.0 L307.6 300.0 L307.4 300.0 L307.1 300.0 L306.9 300.0 L306.6 299.9 L306.4 299.7 L306.1 299.5 L305.9 300.1 L305.6 300.1 L305.4 300.2 L305.1 300.2 L304.9 300.2 L304.6 300.2 L304.4 300.2 L304.1 300.2 L303.9 300.2 L303.6 300.2 L303.4 300.2 L303.1 299.8 L302.9 299.2 L302.6 299.2 L302.4 299.2 L302.1 299.0 L301.9 299.0 L301.6 299.0 L301.4 299.3 L301.1 299.3 L300.9 299.3 L300.6 299.3 L300.4 299.3 L300.1 299.3 L299.9 299.3 L299.6 299.3 L299.4 299.3 L299.1 298.6 L298.9 298.6 L298.6 298.5 L298.4 298.5 L298.1 298.8 L297.9 299.8 L297.6 300.3 L297.4 301.2 L297.1 301.3 L296.9 301.3 L296.6 301.3 L296.4 301.3 L296.1 301.3 L295.9 301.3 L295.6 301.3 L295.4 301.3 L295.1 301.3 L294.9 301.2 L294.6 301.0 L294.4 301.0 L294.1 301.0 L293.9 300.8 L293.6 300.8 L293.4 300.4 L293.1 300.4 L292.9 300.1 L292.6 300.1 L292.4 300.1 L292.1 300.1 L291.9 300.1 L291.6 300.1 L291.4 300.1 L291.1 300.5 L290.9 301.8 L290.6 302.0 L290.4 303.1 L290.1 304.3 L289.9 304.8 L289.6 305.4 L289.4 306.4 L289.1 306.4 L288.9 307.8 L288.6 307.8 L288.4 307.8 L288.1 307.8 L287.9 307.8 L287.6 307.8 L287.4 307.8 L287.1 307.8 L286.9 307.8 L286.6 307.5 L286.4 307.3 L286.1 307.0 L285.9 306.8 L285.6 306.8 L285.4 307.3 L285.1 307.6 L284.9 308.0 L284.6 308.0 L284.4 308.2 L284.1 308.2 L283.9 308.2 L283.6 308.2 L283.4 308.2 L283.1 308.2 L282.9 308.2 L282.6 308.2 L282.4 308.2 L282.1 307.5 L281.9 307.3 L281.6 306.0 L281.4 305.1 L281.1 304.8 L280.9 304.7 L280.6 304.5 L280.4 304.2 L280.1 304.1 L279.9 303.5 L279.6 303.5 L279.4 302.9 L279.1 303.0 L278.9 304.1 L278.6 304.1 L278.4 304.1 L278.1 304.4 L277.9 304.4 L277.6 304.7 L277.4 304.7 L277.1 304.7 L276.9 304.7 L276.6 305.0 L276.4 305.0 L276.1 305.0 L275.9 305.0 L275.6 305.0 L275.4 305.0 L275.1 305.0 L274.9 305.0 L274.6 305.2 L274.4 305.8 L274.1 305.9 L273.9 305.9 L273.6 305.9 L273.4 305.9 L273.1 305.9 L272.9 305.9 L272.6 305.9 L272.4 305.9 L272.1 305.9 L271.9 305.6 L271.6 305.7 L271.4 305.7 L271.1 305.7 L270.9 306.3 L270.6 306.8 L270.4 307.7 L270.1 307.7 L269.9 307.7 L269.6 308.4 L269.4 309.0 L269.1 309.1 L268.9 309.3 L268.6 309.5 L268.4 309.5 L268.1 309.5 L267.9 309.5 L267.6 309.5 L267.4 309.5 L267.1 309.5 L266.9 309.5 L266.6 309.5 L266.4 309.5 L266.1 309.5 L265.9 309.5 L265.6 309.5 L265.4 309.5 L265.1 308.8 L264.9 308.6 L264.6 308.6 L264.4 308.6 L264.1 308.0 L263.9 308.0 L263.6 308.0 L263.4 307.7 L263.1 307.4 L262.9 307.3 L262.6 307.1 L262.4 306.9 L262.1 306.9 L261.9 306.9 L261.6 306.9 L261.4 306.9 L261.1 306.9 L260.9 306.9 L260.6 307.1 L260.4 307.3 L260.1 308.1 L259.9 308.1 L259.6 308.1 L259.4 308.1 L259.1 308.1 L258.9 308.1 L258.6 308.1 L258.4 308.2 L258.1 309.3 L257.9 309.7 L257.6 309.7 L257.4 309.7 L257.1 309.7 L256.9 309.7 L256.6 309.7 L256.4 309.7 L256.1 309.7 L255.9 309.9 L255.7 310.0 L255.4 310.2 L255.2 310.2 L254.9 310.2 L254.7 310.2 L254.4 310.2 L254.2 310.2 L253.9 310.2 L253.7 310.2 L253.4 310.2 L253.2 310.2 L252.9 309.8 L252.7 309.8 L252.4 309.8 L252.2 309.8 L251.9 309.8 L251.7 309.7 L251.4 309.7 L251.2 310.1 L250.9 310.1 L250.7 310.1 L250.4 310.1 L250.2 310.1 L249.9 310.1 L249.7 310.1 L249.4 310.1 L249.2 310.1 L248.9 309.9 L248.7 309.9 L248.4 309.6 L248.2 309.5 L247.9 309.2 L247.7 309.2 L247.4 309.2 L247.2 308.8 L246.9 309.1 L246.7 309.5 L246.4 309.5 L246.2 309.5 L245.9 309.5 L245.7 310.6 L245.4 311.4 L245.2 311.8 L244.9 311.8 L244.7 312.1 L244.4 312.1 L244.2 312.1 L243.9 312.1 L243.7 312.1 L243.4 312.1 L243.2 312.1 L242.9 312.1 L242.7 312.1 L242.4 311.3 L242.2 311.2 L241.9 311.2 L241.7 311.2 L241.4 311.2 L241.2 311.2 L240.9 311.2 L240.7 311.2 L240.4 311.2 L240.2 311.2 L239.9 311.2 L239.7 311.1 L239.4 312.1 L239.2 312.2 L238.9 312.2 L238.7 312.2 L238.4 312.2 L238.2 312.2 L237.9 312.2 L237.7 312.3 L237.4 312.3 L237.2 312.3 L236.9 312.3 L236.7 312.3 L236.4 312.3 L236.2 312.3 L235.9 312.3 L235.7 312.3 L235.4 312.1 L235.2 312.1 L234.9 312.1 L234.7 312.1 L234.4 311.6 L234.2 311.1 L233.9 311.1 L233.7 311.0 L233.4 311.0 L233.2 311.0 L232.9 311.0 L232.7 311.2 L232.4 311.6 L232.2 312.1 L231.9 312.1 L231.7 312.1 L231.4 312.1 L231.2 312.1 L230.9 312.1 L230.7 312.1 L230.4 312.1 L230.2 312.1 L229.9 311.8 L229.7 311.8 L229.4 311.8 L229.2 311.8 L228.9 311.2 L228.7 311.2 L228.4 311.1 L228.2 311.1 L227.9 310.2 L227.7 309.9 L227.4 309.9 L227.2 309.9 L226.9 310.3 L226.7 310.9 L226.4 310.9 L226.2 310.9 L225.9 310.9 L225.7 310.9 L225.4 310.9 L225.2 310.9 L224.9 310.9 L224.7 310.9 L224.4 310.6 L224.2 309.8 L223.9 309.3 L223.7 309.3 L223.4 309.3 L223.2 309.3 L222.9 309.0 L222.7 308.4 L222.4 307.9 L222.2 307.9 L221.9 307.3 L221.7 305.8 L221.4 305.8 L221.2 306.2 L220.9 306.4 L220.7 306.7 L220.4 307.0 L220.2 307.0 L219.9 307.0 L219.7 307.0 L219.4 307.0 L219.2 307.0 L218.9 307.0 L218.7 307.0 L218.4 307.0 L218.2 307.0 L217.9 307.0 L217.7 307.0 L217.4 307.0 L217.2 306.2 L216.9 305.5 L216.7 305.3 L216.4 304.8 L216.2 304.7 L215.9 304.7 L215.7 304.6 L215.4 304.6 L215.2 304.6 L214.9 304.6 L214.7 304.6 L214.4 304.6 L214.2 304.6 L213.9 304.6 L213.7 304.6 L213.4 304.4 L213.2 303.8 L212.9 303.6 L212.7 303.2 L212.4 303.2 L212.2 302.5 L211.9 302.5 L211.7 302.2 L211.4 301.8 L211.2 300.6 L210.9 300.3 L210.7 299.8 L210.4 299.3 L210.2 297.9 L209.9 297.6 L209.7 297.6 L209.4 297.6 L209.2 297.5 L208.9 297.2 L208.7 297.2 L208.4 297.0 L208.2 296.4 L207.9 295.7 L207.7 294.4 L207.4 293.3 L207.2 292.6 L206.9 291.3 L206.7 290.1 L206.4 289.0 L206.2 288.0 L205.9 287.0 L205.7 285.5 L205.4 285.1 L205.2 284.3 L204.9 283.6 L204.7 285.5 L204.4 287.2 L204.2 287.5 L203.9 288.9 L203.7 290.1 L203.4 291.5 L203.2 292.6 L202.9 293.7 L202.7 295.0 L202.4 296.1 L202.2 298.2 L201.9 299.5 L201.7 301.0 L201.4 301.8 L201.2 302.7 L200.9 303.6 L200.7 305.1 L200.4 305.7 L200.2 305.7 L199.9 306.2 L199.7 307.4 L199.4 308.3 L199.2 308.5 L198.9 308.9 L198.7 309.9 L198.4 309.9 L198.2 310.3 L197.9 310.3 L197.7 310.5 L197.4 310.6 L197.2 311.1 L196.9 311.9 L196.7 312.4 L196.4 312.5 L196.2 312.5 L195.9 312.5 L195.7 312.5 L195.4 312.5 L195.2 312.5 L194.9 312.5 L194.7 312.5 L194.4 312.5 L194.2 312.3 L193.9 312.3 L193.7 312.3 L193.4 311.6 L193.2 311.6 L192.9 311.6 L192.7 311.6 L192.4 311.3 L192.2 311.3 L191.9 311.3 L191.7 311.3 L191.4 311.2 L191.2 311.2 L190.9 311.4 L190.7 311.4 L190.4 311.4 L190.2 311.4 L189.9 312.0 L189.7 312.0 L189.4 312.0 L189.2 312.7 L188.9 312.8 L188.7 313.6 L188.4 313.6 L188.2 313.6 L187.9 313.8 L187.7 313.8 L187.4 313.8 L187.2 313.8 L186.9 313.8 L186.7 313.8 L186.4 313.8 L186.2 313.8 L185.9 313.8 L185.7 313.7 L185.4 313.7 L185.2 313.7 L184.9 313.6 L184.7 313.6 L184.4 313.6 L184.2 313.2 L183.9 313.1 L183.7 313.1 L183.4 313.1 L183.2 313.1 L182.9 313.1 L182.7 313.1 L182.4 313.1 L182.2 312.4 L181.9 312.0 L181.7 311.8 L181.4 311.6 L181.2 310.6 L180.9 310.6 L180.7 310.6 L180.4 310.6 L180.2 310.6 L179.9 310.4 L179.7 310.4 L179.4 310.4 L179.2 310.0 L178.9 310.0 L178.7 309.1 L178.4 309.0 L178.2 309.0 L177.9 309.0 L177.7 309.0 L177.4 310.8 L177.2 311.0 L176.9 311.0 L176.7 311.0 L176.4 311.1 L176.2 311.4 L175.9 312.2 L175.7 312.4 L175.4 312.4 L175.2 312.4 L174.9 312.4 L174.7 313.1 L174.4 313.1 L174.2 313.1 L173.9 313.1 L173.7 313.3 L173.4 313.7 L173.2 313.7 L172.9 313.7 L172.7 313.7 L172.4 313.7 L172.2 313.7 L171.9 313.7 L171.7 313.7 L171.4 313.7 L171.2 313.3 L170.9 312.4 L170.7 312.3 L170.4 312.3 L170.2 312.5 L169.9 312.9 L169.7 312.9 L169.4 312.9 L169.2 313.8 L168.9 313.8 L168.7 313.8 L168.4 313.8 L168.2 313.8 L167.9 314.0 L167.7 314.0 L167.4 314.8 L167.2 314.8 L166.9 314.8 L166.7 314.8 L166.4 314.8 L166.2 314.8 L165.9 314.8 L165.7 314.8 L165.4 314.8 L165.2 314.7 L164.9 314.7 L164.7 314.7 L164.4 314.7 L164.2 314.7 L163.9 314.7 L163.7 315.2 L163.4 315.4 L163.2 315.4 L162.9 315.4 L162.7 315.4 L162.4 315.4 L162.2 315.4 L161.9 315.4 L161.7 315.4 L161.4 315.4 L161.2 315.4 L160.9 315.4 L160.7 315.4 L160.4 315.0 L160.2 314.8 L159.9 314.2 L159.7 314.2 L159.4 314.3 L159.2 315.0 L158.9 315.6 L158.7 316.1 L158.4 316.1 L158.2 316.1 L157.9 316.1 L157.7 316.1 L157.4 316.1 L157.2 316.1 L156.9 316.1 L156.7 316.1 L156.4 315.8 L156.2 315.8 L155.9 315.8 L155.7 315.8 L155.4 315.8 L155.2 315.8 L154.9 315.8 L154.7 315.8 L154.4 315.8 L154.2 315.8 L153.9 315.8 L153.7 315.3 L153.4 315.3 L153.2 315.5 L152.9 316.1 L152.7 316.1 L152.4 316.1 L152.2 316.1 L151.9 316.1 L151.7 316.1 L151.4 316.1 L151.2 316.1 L150.9 316.1 L150.7 315.5 L150.4 314.8 L150.2 314.8 L149.9 314.8 L149.7 314.8 L149.4 314.3 L149.2 314.1 L148.9 314.1 L148.7 314.1 L148.4 314.0 L148.2 313.9 L147.9 313.9 L147.7 313.9 L147.4 313.9 L147.2 313.9 L146.9 313.9 L146.7 313.2 L146.4 312.9 L146.2 311.9 L145.9 311.7 L145.7 311.6 L145.4 311.6 L145.2 311.6 L144.9 311.6 L144.7 312.4 L144.4 313.4 L144.2 313.5 L143.9 314.0 L143.7 314.0 L143.4 314.2 L143.2 314.4 L142.9 314.4 L142.7 314.4 L142.4 314.4 L142.2 314.4 L141.9 314.4 L141.7 314.4 L141.4 314.4 L141.2 314.4 L140.9 314.4 L140.7 314.1 L140.4 314.2 L140.2 314.2 L139.9 314.2 L139.7 314.2 L139.4 314.2 L139.2 314.2 L138.9 314.2 L138.7 314.2 L138.4 314.2 L138.2 313.6 L137.9 312.8 L137.7 312.2 L137.4 312.2 L137.2 312.2 L136.9 311.2 L136.7 311.2 L136.4 311.1 L136.2 311.1 L135.9 310.9 L135.7 310.9 L135.4 310.9 L135.2 310.9 L134.9 310.9 L134.7 311.5 L134.4 311.7 L134.2 312.2 L133.9 312.4 L133.7 312.7 L133.4 312.7 L133.2 312.7 L132.9 312.7 L132.7 312.7 L132.4 312.7 L132.2 312.7 L131.9 312.7 L131.7 312.7 L131.4 312.4 L131.2 312.4 L130.9 312.2 L130.7 312.2 L130.4 312.2 L130.2 312.2 L129.9 312.2 L129.7 312.0 L129.4 311.5 L129.2 311.5 L128.9 311.5 L128.7 311.5 L128.4 311.5 L128.2 311.5 L127.9 311.6 L127.7 311.6 L127.4 311.6 L127.2 311.6 L126.9 311.6 L126.7 311.8 L126.4 311.8 L126.2 311.8 L125.9 311.8 L125.7 311.8 L125.4 312.1 L125.2 312.1 L124.9 312.1 L124.7 312.1 L124.4 312.1 L124.2 312.1 L123.9 312.1 L123.7 312.1 L123.4 312.1 L123.2 311.7 L122.9 311.5 L122.7 311.5 L122.4 311.8 L122.2 312.5 L121.9 312.5 L121.7 312.5 L121.4 312.8 L121.2 313.3 L120.9 313.4 L120.7 313.4 L120.4 313.4 L120.2 313.4 L119.9 313.4 L119.7 313.4 L119.4 313.4 L119.2 313.4 L118.9 313.4 L118.7 312.9 L118.4 312.7 L118.2 312.4 L117.9 312.2 L117.7 311.9 L117.4 311.6 L117.2 311.5 L116.9 311.2 L116.7 311.2 L116.4 311.2 L116.2 311.2 L115.9 310.4 L115.7 310.2 L115.4 310.0 L115.2 309.7 L114.9 309.2 L114.7 308.1 L114.4 308.0 L114.2 308.0 L113.9 308.0 L113.7 308.0 L113.4 307.7 L113.2 307.7 L112.9 307.7 L112.7 307.7 L112.4 307.7 L112.2 307.7 L111.9 307.7 L111.7 307.7 L111.4 307.7 L111.2 306.8 L110.9 306.5 L110.7 306.2 L110.4 304.9 L110.2 303.9 L109.9 303.5 L109.7 303.3 L109.4 303.4 L109.2 304.2 L108.9 304.7 L108.7 304.9 L108.4 305.2 L108.2 305.2 L107.9 305.2 L107.7 305.2 L107.4 305.2 L107.2 305.2 L106.9 306.1 L106.7 306.7 L106.4 306.7 L106.2 307.0 L105.9 307.0 L105.7 307.0 L105.4 307.2 L105.2 307.7 L104.9 308.4 L104.7 309.3 L104.4 309.4 L104.2 309.4 L103.9 309.4 L103.7 309.4 L103.4 309.4 L103.2 309.4 L102.9 309.4 L102.7 309.4 L102.4 309.4 L102.2 309.3 L101.9 309.3 L101.7 309.3 L101.4 309.3 L101.2 309.3 L100.9 309.3 L100.7 309.3 L100.4 309.3 L100.2 309.3 L99.9 308.7 L99.7 308.0 L99.4 307.8 L99.2 307.0 L98.9 306.9 L98.7 307.4 L98.4 307.9 L98.2 307.9 L97.9 307.9 L97.7 308.1 L97.4 308.1 L97.2 308.1 L96.9 308.7 L96.7 308.9 L96.4 308.9 L96.2 308.9 L95.9 308.9 L95.7 308.9 L95.4 308.9 L95.2 308.9 L94.9 308.9 L94.7 308.9 L94.4 308.8 L94.2 308.2 L93.9 308.4 L93.7 308.4 L93.4 308.4 L93.2 308.4 L92.9 308.6 L92.7 308.6 L92.4 308.6 L92.2 308.6 L91.9 308.6 L91.7 308.7 L91.4 308.7 L91.2 308.7 L90.9 309.6 L90.7 309.6 L90.4 309.6 L90.2 309.8 L89.9 310.0 L89.7 310.0 L89.4 310.0 L89.2 310.0 L88.9 310.0 L88.7 310.0 L88.4 310.0 L88.2 310.0 L87.9 310.1 L87.7 310.1 L87.4 310.1 L87.2 310.1 L86.9 310.1 L86.7 310.1 L86.4 310.1 L86.2 310.1 L85.9 310.1 L85.7 310.0 L85.4 310.0 L85.2 310.0 L84.9 310.0 L84.7 310.0 L84.4 310.0 L84.2 310.0 L83.9 310.0 L83.7 310.0 L83.4 310.1 L83.2 310.1 L82.9 310.5 L82.7 310.5 L82.4 310.5 L82.2 310.5 L81.9 310.5 L81.7 310.5 L81.4 310.5 L81.2 310.5 L80.9 310.5 L80.7 309.5 L80.4 308.7 L80.2 308.7 L79.9 308.7 L79.7 308.7 L79.4 308.5 L79.2 309.0 L78.9 309.4 L78.7 309.6 L78.4 309.6 L78.2 309.7 L77.9 309.8 L77.7 309.9 L77.4 309.9 L77.2 309.9 L76.9 309.9 L76.7 309.9 L76.4 309.9 L76.2 309.9 L75.9 309.9 L75.7 309.9 L75.4 309.0 L75.2 309.0 L74.9 309.0 L74.7 308.9 L74.4 308.9 L74.2 308.9 L73.9 308.9 L73.7 308.9 L73.4 308.9 L73.2 308.9 L72.9 308.8 L72.7 307.6 L72.4 307.2 L72.2 306.8 L71.9 306.4 L71.7 306.4 L71.4 306.4 L71.2 306.4 L70.9 306.4 L70.7 306.4 L70.4 306.4 L70.2 305.9 L69.9 305.7 L69.7 305.7 L69.4 305.7 L69.2 305.7 L68.9 305.7 L68.7 305.7 L68.4 305.7 L68.2 305.4 L67.9 305.3 L67.7 304.6 L67.4 304.2 L67.2 303.4 L66.9 303.4 L66.7 302.5 L66.4 301.5 L66.2 301.1 L65.9 299.9 L65.7 298.7 L65.4 297.4 L65.2 296.6 L64.9 295.7 L64.7 295.4 L64.4 294.4 L64.2 293.3 L63.9 291.9 L63.6 290.6 L63.4 289.6 L63.1 288.0 L62.9 286.3 L62.6 285.3 L62.4 284.3 L62.1 283.3 L61.9 281.9 L61.6 281.4 L61.4 280.3 L61.1 281.1 L60.9 281.8 L60.6 282.7 L60.4 282.9 L60.1 283.3 L59.9 284.2 L59.6 284.4 L59.4 285.3 L59.1 286.3 L58.9 286.9 L58.6 288.0 L58.4 288.0 L58.1 288.0 L57.9 288.0 L57.6 288.7 L57.4 288.7 L57.1 289.6 L56.9 290.4 L56.6 291.3 L56.4 292.3 L56.1 292.6 L55.9 293.4 L55.6 294.1 L55.4 294.1 L55.1 294.7 L54.9 295.5 L54.6 295.7 L54.4 295.7 L54.1 295.7 L53.9 295.7 L53.6 296.5 L53.4 296.6 L53.1 297.4 L52.9 297.9 L52.6 297.9 L52.4 297.9 L52.1 297.9 L51.9 297.9 L51.6 297.9 L51.4 298.1 L51.1 298.3 L50.9 298.4 L50.6 299.7 L50.4 300.3 L50.1 300.9 L49.9 300.9 L49.6 300.9 L49.4 301.0 L49.1 301.0 L48.9 301.0 L48.6 301.0 L48.4 301.0 L48.1 301.0 L47.9 301.0 L47.6 301.0 L47.4 301.0 L47.1 300.4 L46.9 300.4 L46.6 300.3 L46.4 299.9 L46.1 299.8 L45.9 299.8 L45.6 299.8 L45.4 299.7 L45.1 299.7 L44.9 299.6 L44.6 300.1 L44.4 300.1 L44.1 300.7 L43.9 300.8 L43.6 301.3 L43.4 301.4 L43.1 302.5 L42.9 302.6 L42.6 302.7 L42.4 303.1 L42.1 303.1 L41.9 303.1 L41.6 303.1 L41.4 303.1 L41.1 303.1 L40.9 303.1 L40.6 303.1 L40.4 303.1 L40.1 302.9 L39.9 302.4 L39.6 302.4 L39.4 302.3 L39.1 302.2 L38.9 302.2 L38.6 302.2 L38.4 302.2 L38.1 302.2 L37.9 302.2 L37.6 302.2 L37.4 302.2 L37.1 302.2 L36.9 302.2 L36.6 302.2 L36.4 302.0 L36.1 302.0 L35.9 302.0 L35.6 301.5 L35.4 300.8 L35.1 300.7 L34.9 300.2 L34.6 300.2 L34.4 299.5 L34.1 299.4 L33.9 299.4 L33.6 299.2 L33.4 299.1 L33.1 298.6 L32.9 298.6 L32.6 298.6 L32.4 298.6 L32.1 298.6 L31.9 298.6 L31.6 298.6 L31.4 298.6 L31.1 297.8 L30.9 297.3 L30.6 296.9 L30.4 296.9 L30.1 296.9 L29.9 296.9 L29.6 295.8 L29.4 295.7 L29.1 295.4 L28.9 294.9 L28.6 294.7 L28.4 294.7 L28.1 294.7 L27.9 294.4 L27.6 294.4 L27.4 294.4 L27.1 294.0 L26.9 293.2 L26.6 292.6 L26.4 292.6 L26.1 292.6 L25.9 292.6 L25.6 292.6 L25.4 292.4 L25.1 292.0 L24.9 292.0 L24.6 292.2 L24.4 292.2 L24.1 292.2 L23.9 292.2 L23.6 292.6 L23.4 292.6 L23.1 292.6 L22.9 292.6 L22.6 292.6 L22.4 293.2 L22.1 293.2 L21.9 293.2 L21.6 293.2 L21.4 293.5 L21.1 293.5 L20.9 293.5 L20.6 293.5 L20.4 293.5 L20.1 293.5 L19.9 293.5 L19.6 293.5 L19.4 293.5 L19.1 293.4 L18.9 292.6 L18.6 292.6 L18.4 292.5 L18.1 292.5 L17.9 292.5 L17.6 292.5 L17.4 292.2 L17.1 291.8 L16.9 291.8 L16.6 291.8 L16.4 291.8 L16.1 290.8 L15.9 290.6 L15.7 290.6 L15.4 290.5 L15.2 290.5 L14.9 290.5 L14.7 290.5 L14.4 290.5 L14.2 290.5 L13.9 290.5 L13.7 290.5 L13.4 290.5 L13.2 290.1 L12.9 290.1 L12.7 289.6 L12.4 289.5 L12.2 289.5 L11.9 289.5 L11.7 289.4 L11.4 289.5 L11.2 290.2 L10.9 290.9 L10.7 291.1 L10.4 291.8 L10.2 291.8 L9.9 291.8 L9.7 291.8 L9.4 291.8Z" fill="#000" stroke="none"/>
<path d="M11.3 471.4 L12.2 496.9 L13.2 477.7 L14.2 498.3 L15.1 472.7 L16.1 498.5 L17.0 470.0 L17.9 497.6 L18.9 475.4 L19.9 498.0 L20.8 472.4 L21.8 498.3 L22.7 475.7 L23.7 498.2 L24.6 477.1 L25.6 500.6 L26.5 480.4 L27.5 504.9 L28.4 475.8 L29.4 500.6 L30.3 472.8 L31.3 498.2 L32.2 477.9 L33.2 500.0 L34.1 475.7 L35.1 500.9 L36.0 478.2 L37.0 501.4 L37.9 476.3 L38.9 495.3 L39.8 471.9 L40.8 493.5 L41.7 468.9 L42.7 494.3 L43.6 463.4 L44.6 498.2 L45.5 468.5 L46.5 486.4 L47.4 461.7 L48.4 489.9 L49.3 461.6 L50.3 483.5 L51.2 457.2 L52.2 481.7 L53.1 459.1 L54.1 480.5 L55.0 452.4 L56.0 478.8 L56.9 447.4 L57.9 479.2 L58.8 455.2 L59.8 478.5 L60.7 441.5 L61.7 476.5 L62.6 452.0 L63.6 477.1 L64.5 447.6 L65.5 478.5 L66.4 451.2 L67.4 475.8 L68.3 452.7 L69.3 479.5 L70.2 453.2 L71.2 477.6 L72.1 448.0 L73.1 478.0 L74.0 443.1 L75.0 474.0 L75.9 452.8 L76.9 472.1 L77.8 449.7 L78.8 468.9 L79.7 440.6 L80.7 472.0 L81.6 448.7 L82.6 471.5 L83.5 443.1 L84.5 466.9 L85.4 446.0 L86.4 466.1 L87.3 442.4 L88.3 462.9 L89.2 443.8 L90.2 462.5 L91.1 437.2 L92.1 463.4 L93.0 430.0 L94.0 461.3 L94.9 439.3 L95.9 464.1 L96.8 432.4 L97.8 465.0 L98.7 436.0 L99.7 458.4 L100.6 439.4 L101.6 462.4 L102.5 432.2 L103.5 459.3 L104.4 434.0 L105.4 458.7 L106.3 440.9 L107.3 460.4 L108.2 441.7 L109.2 461.6 L110.1 440.7 L111.1 464.5 L112.0 441.3 L113.0 470.1 L113.9 441.6 L114.9 474.2 L115.8 446.5 L116.8 470.5 L117.7 443.8 L118.7 472.7 L119.6 449.0 L120.6 476.0 L121.5 449.1 L122.5 468.9 L123.4 451.5 L124.4 477.0 L125.3 451.8 L126.3 469.7 L127.2 451.2 L128.2 470.7 L129.1 452.6 L130.1 478.0 L131.0 449.4 L132.0 473.3 L132.9 454.8 L133.9 471.5 L134.8 448.2 L135.8 475.8 L136.7 455.3 L137.7 483.9 L138.6 449.9 L139.6 476.7 L140.5 455.2 L141.5 474.9 L142.4 453.4 L143.4 473.9 L144.3 452.7 L145.3 476.6 L146.2 453.8 L147.2 482.6 L148.1 456.4 L149.1 483.4 L150.0 454.4 L151.0 476.1 L151.9 447.9 L152.9 477.0 L153.8 446.2 L154.8 482.8 L155.7 458.8 L156.7 482.6 L157.6 453.2 L158.6 481.9 L159.5 459.1 L160.5 482.1 L161.4 453.9 L162.4 479.2 L163.3 458.1 L164.3 477.4 L165.2 460.5 L166.2 486.1 L167.1 453.7 L168.1 490.4 L169.0 455.9 L170.0 490.4 L170.9 458.4 L171.9 477.2 L172.8 456.6 L173.8 481.2 L174.7 459.8 L175.7 485.3 L176.6 458.5 L177.6 480.4 L178.5 456.8 L179.5 478.1 L180.4 459.6 L181.4 476.6 L182.3 457.4 L183.3 481.6 L184.2 458.1 L185.2 486.3 L186.1 455.5 L187.1 478.2 L188.0 457.5 L189.0 478.6 L189.9 457.4 L190.9 477.4 L191.8 455.7 L192.8 478.9 L193.7 459.1 L194.7 483.6 L195.6 458.2 L196.6 481.1 L197.5 451.8 L198.5 472.6 L199.4 448.7 L200.4 470.5 L201.3 430.5 L202.3 467.2 L203.2 444.0 L204.2 469.1 L205.1 451.8 L206.1 472.4 L207.0 449.0 L208.0 478.7 L208.9 457.3 L209.9 482.1 L210.8 454.8 L211.8 481.1 L212.7 455.8 L213.7 474.9 L214.6 457.7 L215.6 475.1 L216.5 457.1 L217.5 475.5 L218.4 433.0 L219.4 476.3 L220.3 451.3 L221.3 472.5 L222.2 455.5 L223.2 480.7 L224.1 455.6 L225.1 472.0 L226.0 451.9 L227.0 475.6 L227.9 456.0 L228.9 474.5 L229.8 448.3 L230.8 474.8 L231.7 453.9 L232.7 477.3 L233.6 454.7 L234.6 481.1 L235.5 456.5 L236.5 479.8 L237.4 444.3 L238.4 474.6 L239.3 455.6 L240.3 478.9 L241.2 455.2 L242.2 481.9 L243.1 457.6 L244.1 475.8 L245.0 455.5 L246.0 474.1 L246.9 455.7 L247.9 472.4 L248.8 457.9 L249.8 484.0 L250.7 458.0 L251.7 476.4 L252.6 451.2 L253.6 484.0 L254.5 454.2 L255.5 472.6 L256.4 456.4 L257.4 471.2 L258.3 446.6 L259.3 473.6 L260.2 449.2 L261.2 473.6 L262.1 453.1 L263.1 471.4 L264.0 451.9 L265.0 471.3 L265.9 444.5 L266.9 469.8 L267.8 450.8 L268.8 470.1 L269.7 447.6 L270.7 475.9 L271.6 455.4 L272.6 471.7 L273.5 454.3 L274.5 474.8 L275.4 451.2 L276.4 471.5 L277.3 453.4 L278.3 474.6 L279.2 452.6 L280.2 470.1 L281.1 452.8 L282.1 467.9 L283.0 448.3 L284.0 467.4 L284.9 450.7 L285.9 467.7 L286.8 449.8 L287.8 471.2 L288.7 449.7 L289.7 464.4 L290.6 447.2 L291.6 464.5 L292.5 444.4 L293.5 459.4 L294.4 441.8 L295.4 465.2 L296.3 440.2 L297.3 460.6 L298.2 443.0 L299.2 464.6 L300.1 440.6 L301.1 461.4 L302.0 442.0 L303.0 460.1 L303.9 443.9 L304.9 463.6 L305.8 444.2 L306.8 466.6 L307.7 444.4 L308.7 462.0 L309.6 441.1 L310.6 459.7 L311.5 436.6 L312.5 464.1 L313.4 444.9 L314.4 471.6 L315.3 444.7 L316.3 468.7 L317.2 450.2 L318.2 467.8 L319.1 451.3 L320.1 469.5 L321.0 448.4 L322.0 466.6 L322.9 449.5 L323.9 467.4 L324.8 450.3 L325.8 468.9 L326.7 445.2 L327.7 470.6 L328.6 449.2 L329.6 466.4 L330.5 450.3 L331.5 467.5 L332.4 448.8 L333.4 469.4 L334.3 450.3 L335.3 466.3 L336.2 443.3 L337.2 465.5 L338.1 437.5 L339.1 466.0 L340.0 449.5 L341.0 471.4 L341.9 449.1 L342.9 467.5 L343.8 445.8 L344.8 467.9 L345.7 446.6 L346.7 467.1 L347.6 450.1 L348.6 467.8 L349.5 449.5 L350.5 467.7 L351.4 449.5 L352.4 468.8 L353.3 447.2 L354.3 469.7 L355.2 448.6 L356.2 471.8 L357.1 448.8 L358.1 466.3 L359.0 442.7 L360.0 467.6 L360.9 450.7 L361.9 481.0 L362.8 447.6 L363.8 469.9 L364.7 448.5 L365.7 466.8 L366.6 445.1 L367.6 469.6 L368.5 444.5 L369.5 465.9 L370.4 442.3 L371.4 466.7 L372.3 446.7 L373.3 465.9 L374.2 444.5 L375.2 463.9 L376.1 446.5 L377.1 463.8 L378.0 440.8 L379.0 467.4 L379.9 445.2 L380.9 463.5 L381.8 443.5 L382.8 465.8 L383.7 444.1 L384.7 461.8 L385.6 443.1 L386.6 459.7 L387.5 444.9 L388.5 460.4 L389.4 443.1 L390.4 464.6 L391.3 435.4 L392.3 463.4 L393.2 440.4 L394.2 458.7 L395.1 430.6 L396.1 458.4 L397.0 433.9 L398.0 450.8 L398.9 430.1 L399.9 451.7 L400.8 428.7 L401.8 451.7 L402.7 427.3 L403.7 448.1 L404.6 423.7 L405.6 444.3 L406.5 422.8 L407.5 444.6 L408.4 427.4 L409.4 444.3 L410.3 429.0 L411.3 445.7 L412.2 424.0 L413.2 449.8 L414.1 427.7 L415.1 449.8 L416.0 427.7 L417.0 451.6 L417.9 431.8 L418.9 453.8 L419.8 435.0 L420.8 459.3 L421.7 419.6 L422.7 462.0 L423.6 438.6 L424.6 468.0 L425.5 439.3 L426.5 461.0 L427.4 441.8 L428.4 461.8 L429.3 434.2 L430.3 463.1 L431.2 442.2 L432.2 469.0 L433.1 443.9 L434.1 464.0 L435.0 437.6 L436.0 461.8 L436.9 442.1 L437.9 464.1 L438.8 445.7 L439.8 470.1 L440.7 448.1 L441.7 471.2 L442.6 443.0 L443.6 470.9 L444.5 448.8 L445.5 473.7 L446.4 448.4 L447.4 475.7 L448.3 444.7 L449.3 472.5 L450.2 450.1 L451.2 471.9 L452.1 452.4 L453.1 473.1 L454.0 452.5 L455.0 475.7 L455.9 450.3 L456.9 473.0 L457.8 447.8 L458.8 469.0 L459.7 447.8 L460.7 467.6 L461.6 450.1 L462.6 466.3 L463.5 442.8 L464.5 476.0 L465.4 444.3 L466.4 467.5 L467.3 448.1 L468.3 465.1 L469.2 448.1 L470.2 465.7 L471.1 442.5 L472.1 474.6 L473.0 443.6 L474.0 469.8 L474.9 447.0 L475.9 470.4 L476.8 449.3 L477.8 467.1 L478.7 449.6 L479.7 474.1 L480.6 448.8 L481.6 467.1 L482.5 450.0 L483.5 472.9 L484.4 440.6 L485.4 480.0 L486.3 445.2 L487.3 468.8 L488.2 447.7 L489.2 470.6 L490.1 449.8 L491.1 467.8 L492.0 440.8 L493.0 467.4 L493.9 448.7 L494.9 470.9 L495.8 428.0 L496.8 467.3 L497.7 446.7 L498.7 466.8 L499.6 437.7 L500.6 467.6 L501.5 444.0 L502.5 465.1 L503.4 434.0 L504.4 467.9 L505.3 444.1 L506.3 468.1 L507.2 443.2 L508.2 466.6 L509.1 442.0 L510.1 469.1 L511.0 441.5 L512.0 459.6 L512.9 440.5 L513.9 458.0 L514.8 431.9 L515.8 454.8 L516.7 429.5 L517.7 454.9 L518.6 426.8 L519.6 446.5 L520.5 422.8 L521.5 438.0 L522.4 404.2 L523.4 433.7 L524.3 406.3 L525.3 425.2 L526.2 397.7 L527.2 420.8 L528.1 389.9 L529.1 408.7 L530.0 391.1 L531.0 412.8 L531.9 395.7 L532.9 424.2 L533.8 409.2 L534.8 439.7 L535.7 427.0 L536.7 452.2 L537.6 433.5 L538.6 459.9 L539.5 436.6 L540.5 458.2 L541.4 438.6 L542.4 466.5 L543.3 442.0 L544.3 468.7 L545.2 442.1 L546.2 463.7 L547.1 446.1 L548.1 473.0 L549.0 445.8 L550.0 470.4 L550.9 442.8 L551.9 473.2 L552.8 442.9 L553.8 469.1 L554.7 447.3 L555.7 474.1 L556.6 441.0 L557.6 470.6 L558.5 452.3 L559.5 476.2 L560.4 449.4 L561.4 473.6 L562.3 449.4 L563.3 471.0 L564.2 450.9 L565.2 480.1 L566.1 447.7 L567.1 476.4 L568.0 455.2 L569.0 481.5 L569.9 452.0 L570.9 473.8 L571.8 446.3 L572.8 479.5 L573.7 451.0 L574.7 475.3 L575.6 454.4 L576.6 474.3 L577.5 447.6 L578.5 472.7 L579.4 450.4 L580.4 478.1 L581.3 454.4 L582.3 478.3 L583.2 452.5 L584.2 473.5 L585.1 454.9 L586.1 474.6 L587.0 446.7 L588.0 472.5 L588.9 454.6 L589.9 475.1 L590.8 451.0 L591.8 474.9 L592.7 452.3 L593.7 472.6 L594.6 455.2 L595.6 477.4 L596.5 456.6 L597.5 475.9 L598.4 443.0 L599.4 477.3 L600.3 456.3 L601.3 476.1 L602.2 456.6 L603.2 475.5 L604.1 450.9 L605.1 481.3 L606.0 455.7 L607.0 478.4 L607.9 452.9 L608.9 474.2 L609.8 455.2 L610.8 479.9 L611.7 452.9 L612.7 473.1 L613.6 455.9 L614.6 474.4 L615.5 447.5 L616.5 477.7 L617.4 449.6 L618.4 472.4 L619.3 448.4 L620.3 478.2 L621.2 452.4 L622.2 482.6 L623.1 445.3 L624.1 477.4 L625.0 444.1 L626.0 474.1 L626.9 455.8 L627.9 473.6 L628.8 451.6 L629.8 475.3 L630.7 453.3 L631.7 473.4 L632.6 454.0 L633.6 476.7 L634.5 452.8 L635.5 474.3 L636.4 449.2 L637.4 473.7 L638.3 449.3 L639.3 476.2 L640.2 456.9 L641.2 473.9 L642.1 455.0 L643.1 474.6 L644.0 456.8 L645.0 474.6 L645.9 446.7 L646.9 476.9 L647.8 454.2 L648.8 477.6 L649.7 454.3 L650.7 475.8 L651.6 452.4 L652.6 478.2 L653.5 451.8 L654.5 477.2 L655.4 447.2 L656.4 478.8 L657.3 453.1 L658.3 470.6 L659.2 447.0 L660.2 479.2 L661.1 447.4 L662.1 476.6 L663.0 448.5 L664.0 470.7 L664.9 445.7 L665.9 470.2 L666.8 446.1 L667.8 474.4 L668.7 448.4 L669.7 472.2 L670.6 446.3 L671.6 469.5 L672.5 439.0 L673.5 471.7 L674.4 448.2 L675.4 473.1 L676.3 440.3 L677.3 481.0 L678.2 449.4 L679.2 468.6 L680.1 445.8 L681.1 468.9 L682.0 451.2 L683.0 473.9 L683.9 448.1 L684.9 475.0 L685.8 442.7 L686.8 477.2 L687.7 450.4 L688.7 473.7 L689.6 448.0 L690.6 471.8 L691.5 452.3 L692.5 475.9 L693.4 452.7 L694.4 480.3 L695.3 453.4 L696.3 474.0 L697.2 447.6 L698.2 472.8 L699.1 445.6 L700.1 478.5 L701.0 450.9 L702.0 476.0 L702.9 450.7 L703.9 474.7 L704.8 451.1 L705.8 478.6 L706.7 455.7 L707.7 478.2 L708.6 447.9 L709.6 477.7 L710.5 454.5 L711.5 478.5 L712.4 452.6 L713.4 475.7 L714.3 451.2 L715.3 474.2 L716.2 454.2 L717.2 473.4 L718.1 454.6 L719.1 474.1 L720.0 452.8 L721.0 474.9 L721.9 453.2 L722.9 475.2 L723.8 452.6 L724.8 471.9 L725.7 449.6 L726.7 474.5" fill="none" stroke="#000" stroke-width="1.9" stroke-linejoin="bevel" stroke-linecap="butt"/>
<path d="M290.4 452 L290.3 430 L290.8 385 L290.9 337 L291.6 331.8 L293.4 331.8 L294.2 337 L294.4 385 L295.7 430 L296.0 452 Z M308.3 454 L308.9 430 L309.3 385 L309.6 380 L312.4 380 L312.8 385 L313.2 430 L314.0 454 Z" fill="#000"/>
<rect x="11.7" y="537.8" width="717.4" height="3.2" fill="#000"/>
<rect x="74.5" y="526" width="3.2" height="13" fill="#000"/><rect x="205.2" y="526" width="3.2" height="13" fill="#000"/><rect x="334.1" y="526" width="3.2" height="13" fill="#000"/><rect x="465.9" y="526" width="3.2" height="13" fill="#000"/><rect x="595.7" y="526" width="3.2" height="13" fill="#000"/><rect x="725.9" y="526" width="3.2" height="13" fill="#000"/>
<text x="76.6" y="574.8" text-anchor="middle">10</text><text x="205.1" y="574.8" text-anchor="middle">20</text><text x="337.3" y="574.8" text-anchor="middle">30</text><text x="466.2" y="574.8" text-anchor="middle">40</text><text x="598.1" y="574.8" text-anchor="middle">50</text><text x="726.1" y="574.8" text-anchor="middle">60</text>
<text transform="translate(592.5,37.8) scale(1,1.07)" style="font-size:34px" text-anchor="start">Q</text><text x="614.9" y="32.0" class="d" textLength="36.4" lengthAdjust="spacingAndGlyphs">—</text><text x="648.8" y="37.8" class="cj">石英</text><text transform="translate(594.0,75.9) scale(0.8,1)" text-anchor="start">I</text><text x="601.6" y="75.9" class="d" textLength="36.9" lengthAdjust="spacingAndGlyphs">—</text><text x="636.4" y="75.9" class="cj">伊利石</text><text x="592.6" y="114.0" style="font-size:34.5px" text-anchor="start">C</text><text x="613.8" y="108.8" class="d" textLength="37.7" lengthAdjust="spacingAndGlyphs">—</text><text x="647.0" y="114.0" class="cj">方解石</text><text x="594.0" y="152.8" text-anchor="start">P</text><text x="610.0" y="149.3" class="d" textLength="34.5" lengthAdjust="spacingAndGlyphs">—</text><text x="643.5" y="152.8" class="cj">坡缕石</text><text x="594.0" y="191.8" text-anchor="start">Fe</text><text x="624.0" y="188.4" class="d" textLength="34.0" lengthAdjust="spacingAndGlyphs">—</text><text x="657.7" y="191.8" class="cj">铁</text>
<text transform="translate(281.6,30.8) scale(1,1.07)" style="font-size:34px" text-anchor="start">Q</text><text transform="translate(63.1,266.5) scale(0.8,1)" text-anchor="middle">I</text><text transform="translate(200.2,265.6) scale(0.8,1)" text-anchor="middle">I</text><text transform="translate(209.4,244.5) scale(1,1.07)" style="font-size:34px" text-anchor="start">Q</text><text transform="translate(299.7,223) scale(1,1.07)" style="font-size:34px" text-anchor="start">Q</text><text x="311.0" y="266" text-anchor="start">P</text><text x="319.6" y="189.8" style="font-size:34.5px" text-anchor="start">C</text><text transform="translate(283.7,330.8) scale(1,1.07)" style="font-size:34px" text-anchor="start">Q</text><text x="307.7" y="376.4" text-anchor="start">P</text><text x="515.4" y="383" text-anchor="start">Fe</text><text x="697.8" y="291.6" text-anchor="start">(a)</text><text x="695.9" y="427.4" text-anchor="start">(b)</text>
<text x="416.7" y="637.0" text-anchor="middle" style="letter-spacing:-0.7px">2<tspan class="i">θ</tspan>/(°)</text>
</svg>
</body>
</html>
